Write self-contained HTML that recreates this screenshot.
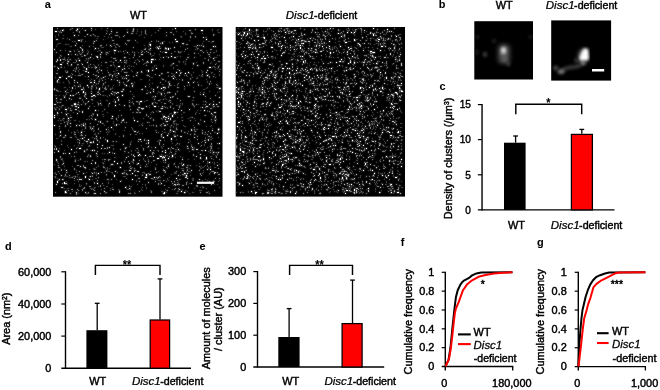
<!DOCTYPE html>
<html lang="en"><head><meta charset="utf-8"><title>Figure</title>
<style>
html,body{margin:0;padding:0;background:#fff;}
body{width:660px;height:390px;overflow:hidden;}
svg{display:block;}
svg text{font-family:"Liberation Sans",Arial,Helvetica,sans-serif;fill:#000;stroke:#000;stroke-width:0.42px;}
</style></head><body>
<svg width="660" height="390" viewBox="0 0 660 390" font-size="10.5">
<rect width="660" height="390" fill="#fff"/>
<g>
<rect x="53" y="27" width="169.5" height="169.7" fill="#000"/>
<defs>
<path id="s10" d="M110 110h0M101 150h0M131 146h0M39 123h0M130 137h0M64 136h0M26 33h0M12 164v1M160 19h0M81 93h0M107 129h1M115 131h0M154 48h0M64 70h0M1 88h0M131 165h0M118 111v1M166 61h0M54 113v1M13 51h0M7 37h1M87 74h1M123 45h0M115 91h0M73 58h0M4 154v1M152 123h0M42 21h0M115 21v1M120 104h0M165 102h0M67 33h0M73 48h0M150 67h0M56 125h0M122 12h0M44 30h0M26 121h1M111 89h0M15 91h0M11 155v1M112 25h1M157 142h0M1 98h0M112 125h0M61 23h1M46 61v1M62 78h0M164 106h0M25 80h0M59 89h0M58 100h0M79 152h0M1 90h0M133 148h0M29 111h0M37 115h0M101 79h1M103 41h0M35 112h0M98 34v1M65 39h1M95 43v1M148 3h1M5 41h0M92 150h1M79 146h0M93 147v1M1 88h0M30 64v1M45 146h0M87 112h0M5 124h0M135 45h0M151 83h0M111 165v1M156 40h1M69 68h0M114 108h0M72 160h0M128 164h0M111 130h0M121 85h1M42 92h0M44 117h0M21 8h0M40 68h1M119 88v1M17 68h0M61 134h0M24 2h0M166 116h0M32 149v1M33 41v1M16 126h0M122 1h0M67 140h0M9 3h0M65 46h0M85 136h0M156 135h0M135 55h0M97 17v1M12 82h1M95 113h0M104 131h0M110 60h0M6 50h1M105 21h0M98 32h1M153 130v1M25 13h1M28 105h0M108 61h0M120 51h0M61 148v1M105 131h0M160 77h0M15 27h0M21 77h1M123 151h0M2 4h1M30 98h0M18 122h0M153 12h0M36 152h0M85 128h0M92 128h0M132 46h0M118 29h0M86 127h0M123 14h1M34 58h0M35 45h0M44 156h0M42 83h0M13 87h0M119 128v1M41 55h0"/>
<path id="s11" d="M19 60v1M25 59h0M8 160h1M111 60h0M144 18h0M99 32h1M100 62h0M41 53h0M1 77h1M11 70h0M64 65h1M70 117h0M83 48h0M100 129h0M128 83h0M67 154h0M12 165h1M84 45h0M41 166h0M154 142h0M74 25h0M9 152h0M115 30h0M51 164h0M109 124h0M160 31h0M129 138h0M58 52h0M112 90h1M72 121h0M108 81h1M43 126h0M89 81h1M12 108h0M44 113h0M93 79h0M17 24h0M35 81h0M166 75h0M87 140h0M14 36h0M106 19h0M1 62h0M110 166h0M34 35h0M80 128h0M70 92v1M3 34h0M3 132v1M4 85v1M44 29h0M89 62h0M95 115v1M121 86h0M41 123h0M82 148h0M134 119h0M45 49h0M3 121v1M20 68h0M1 22h0M6 152h0M38 115h0M66 55h0M28 62h1M134 151h0M162 93h0M37 129h0M81 129h0M150 10h0M127 46h0M109 130h0M24 55h0M58 66h0M104 20h0M65 72v1M78 56h0M56 120h0M108 156h0M110 129v1M61 23h0M99 76h0M75 53h0M146 152h0M4 53v1M106 48h0M37 30h0M16 71h0M73 130h0M163 77h0M29 22v1M23 98h0M73 51h0M59 48h0M22 27h0M147 130v1M24 86h0M71 41h0M43 40h0M126 48h0M164 138h0M26 152h0M38 1h0M30 146h0M138 102v1M129 16h1M34 7h0M8 148h0M121 30h1M127 109h1M161 85h1M153 79h1M141 110h0M92 59h0M43 29h0M160 125h0M43 109h0M63 97v1M121 109h1M108 107h0M155 113h0M15 34h0M27 20h0M143 129h0M42 92h0M58 4h0M117 91v1M117 103h0M58 137h1M116 65h0M105 150h0M84 144h1M80 2h0M84 82h0M76 161h0M27 139h0M124 157h0M33 114h1M154 43h0M88 27h1M70 62h0M37 149h0M3 12h1M96 17h0M158 86h0M158 157h0M102 120h0M68 64h1M10 126h0M80 132v1M76 143h1M111 143h0M63 66h0M48 121h0M29 37h0M47 76h0M69 42h0M104 60h0M61 126h0M47 94v1M125 122h0M151 94h0M23 165h0M143 122h1M95 119h0M48 25h0M140 55h0M22 18h0M166 70h0M39 101h0M4 85h0M159 103h0M71 78h0M71 30h0M112 21h1M48 43h0M23 3h0M107 113h0M139 122h0M42 166h0M57 18h0M21 53h0M109 79h0M96 147h1M132 146h0M31 28h0M147 127h0M97 65h0M31 140h1M7 32v1M66 164v1M62 74v1M116 56v1M13 143h0M138 156h0M53 102h0M39 146h0M31 124h0M115 89h0M145 96h0M69 93h0M121 157h1M100 64h0M115 121h0M84 94h0M50 50h0M22 82h1M47 27h0M37 55h1M32 165h0M129 132h0M32 44h1M5 52h0M126 162h0M132 150h1M102 69h0M97 123h0M38 136h0M153 45h0M12 156h1M138 143h0M140 36h0M165 125h0M38 69h1M81 104h1M74 5h0M152 115h0M40 114v1M99 43h0M88 81h0M7 108h0M76 136h0M95 155h0M88 44h0M32 3h0M149 80h0M21 76h1M117 70h0M139 120h0M27 152h1M49 118h0M3 157h0M133 149h0M136 82h0M35 74h0M79 58v1M42 135v1M64 53h0M17 96h0M22 79h1M112 123h0M112 132v1M150 19h0M44 87v1M26 98h0M162 19h0M126 43h0M33 71h0M35 49h0M108 66v1M94 34h0M62 144h0M7 104v1M135 69h1M121 20h0M41 14h0M115 139h0M161 145v1M110 89v1M18 50h0M97 21h0M155 112h0M12 64h0M120 36h0M109 15v1M162 89v1M106 84h1M3 71h0M111 98h1M32 67h0M105 21h0M144 38h0M145 116h0M113 94h1M18 37h0M166 61h1M86 80h0M25 65h0M10 136h0M56 76h0M29 84v1M110 30h0M4 32v1M112 92h0M161 145h1M134 146h0M125 148h0M15 49h1M38 66h0M69 146h0M156 77h0"/>
<path id="s12" d="M9 137h0M25 48h1M86 34h0M32 141h0M164 145h0M84 121h0M70 24h0M2 150h0M97 91h0M39 149h0M125 56h0M133 17h1M34 129h0M11 95h0M125 139v1M116 129h0M88 62h0M164 58h0M98 164v1M75 125h0M47 67h0M156 154h0M126 79v1M62 33h1M122 158h0M4 40h0M54 1h0M83 74h0M117 102v1M26 113h0M69 93h0M17 166h0M124 60h1M133 140h1M157 54h0M166 132h0M88 25h0M106 149h0M53 6h0M124 85h0M36 159h1M125 82h0M110 96h0M88 45h0M111 76h0M155 32v1M136 3h1M132 22h0M70 9h0M24 1h0M3 147h0M31 123v1M54 120v1M118 49h1M52 49h0M108 108v1M23 166v1M60 35h0M157 25h0M74 13h1M112 80h0M45 101h0M159 87h0M110 166h0M1 39h0M38 27h0M125 161h0M82 13h0M30 139h0M68 135v1M72 16h0M154 155h0M37 128h0M75 48h0M47 166h0M82 143h0M59 162h1M48 145h0M125 157h1M135 115h0M135 160h0M154 107h0M62 8h1M113 22h0M140 36v1M14 34h1M17 110h1M30 96v1M45 94h0M70 108v1M145 57v1M80 2v1M116 58h1M113 140h0M103 98v1M110 142v1M134 142v1M160 79h1M89 32h0M129 52v1M105 14h0M21 107h1M38 3h0M131 105h0M109 15v1M59 49h0M32 100v1M119 128h0M76 78v1M10 152h0M31 110h0M32 66h0M109 131h0M19 150h0M118 26h0M32 28h0M81 141h0M18 78h1M38 59h1M96 129h1M63 5h1M106 117h0M110 153h0M8 117h0M81 143v1M110 133h0M86 85h1M101 72h0M92 139h0M127 73h0M38 88h0M95 89h0M69 51h0M48 51h0M144 112h0M66 163h0M3 46h1M33 156h0M37 8h0M77 64h0M23 16h0M14 44v1M107 55h0M71 145h0M12 126h0M24 162h0M7 23h0M107 16h0M3 25h0M112 135h0M60 31h0M28 21h0M76 75h0M21 58h0M5 140h1M91 22h0M119 121h1M25 31h0M24 138h1M120 81h0M32 96v1M79 56h0M13 145h0M152 77h0M71 35h1M32 65h0M25 24h1M53 143v1M129 143h1M22 79h1M142 9h0M27 132h0M35 60h0M102 141h0M137 138h0M140 122h0M1 125h0M85 80h0M112 128h0M93 38h0M52 112h0M10 2v1M6 82h0M67 122h0M122 161h0M115 60h0M165 141h0M47 104h0M103 150h0M24 77h1M51 161h0M150 160h0M112 60v1M21 129h0M77 139h0M28 108h1M118 154h0M24 37h1M110 117h0M76 73h0M34 122h0M141 107h0M148 118h0M44 65h1M157 71h0M5 153h0M157 125h0M116 73h1M77 107h0M80 30h0M94 48h1M26 115v1M17 90h1M86 133h0M21 105h0M34 26h0M28 77h0M121 136h0M69 42h0M71 134h0M161 33h0M166 102h0M144 158v1M150 35v1M22 44h0M146 143h0M77 117h0M52 35h1M29 25h0M1 61h0M74 147h0M123 101v1M120 48h0M41 111h0M124 153h0M143 158h1M63 114h0M95 25h0M147 165h0M31 68v1M130 137h0M17 99h0M112 76h0M95 134h0M37 101h0M46 66h0M134 138h0M44 129h0M26 33h0M155 27h1M106 116h0M58 91h1M25 75h0M52 55h0M155 104h0M7 129v1M120 94h1M2 119h0M28 13v1M158 92h0M102 142h0M36 19h0M158 116v1M28 107h0M61 31h1M7 75h0M8 132h0M95 146h0M49 53h0M98 14h0M85 151h1M5 123h0M8 40h0M51 140h0M118 120h0M73 45h0M113 8h0M44 43h0M157 106h0M92 21v1M118 125h0M16 24h0M102 75h0M92 3v1M107 98h0M134 121h1M54 94h0M149 47h0M53 25h1M119 69h1M30 60v1M75 166h0M133 32h0M12 98v1M21 141v1M84 125h1M146 18h0M9 156h0M93 149h0M7 72h1M86 164h0M45 45h0M73 17h0M103 105h0M26 144h0M17 83h1M102 47h0M37 96h0M105 3h0M152 74h0M27 48h0M54 152h1M57 38h1M64 8h0M38 72h1M165 101h0M89 148h0M125 24v1M100 133h1M36 79h0M58 152h0M53 27h0M30 138v1M35 31h0M56 68h0M166 151h0M41 163h0M43 60v1M156 84h0M165 34h1M102 154h0M45 76v1M160 154h1M73 33h0M165 102v1M28 97h0M77 141h1M140 70h0M147 146v1M77 82h0M150 36h0M40 47h0M138 6h1M80 1h0M165 39v1M100 92v1M93 116h0M128 45h0M26 84h0M37 37h0M40 162h0M115 55h0M141 64h0M162 37h0M41 155v1M4 1h0M6 30h0M165 125h0M134 30h1M89 24h0M148 123h1M44 124h0M85 83h0M60 13h0M71 45h1M36 118h0M56 47v1M115 59h0M141 26h0M87 128h0M124 71h0M43 111h0M133 48h0M3 63h1M15 93h0M74 54h0M32 76v1M156 135h0M42 48h1M35 165h0M143 77h0M106 115v1M154 25h0M90 121v1M84 74h0M89 82h0M51 61h1M134 106h0M50 139v1M142 2h0M85 112h1M160 74h0M126 152h0M24 112h0M163 125h0M93 87v1M165 147h1M140 127v1M45 56h0M162 151h0M86 75v1M10 32h1M8 5h0M42 40v1M42 39h0M57 62h0M77 166h0M49 156h0M50 56v1M133 155v1M139 90h0M111 102h0M23 40v1M1 121v1M5 138h0M156 50h0M16 148h0M19 47h0M104 151h0M119 70h0M70 55h0M17 2h0M58 10h0M117 79v1M89 98h0M149 103h0M39 133h0M159 14h1M157 123h0M114 45h1M17 32h0M55 45h0M129 93h0M108 91h0M92 5v1M113 5h0M93 147h0M25 8h0M44 67h0M163 57h0M40 16h0M81 27v1M63 91v1M117 5h1M27 59h0M59 67h0M141 100h0M72 100h0M60 114h0M44 97h0M41 142h0M163 129v1M158 131h0M122 66v1M157 22h1M150 134h0M91 112v1M124 108h0M56 132h0M12 147v1M4 75h0M156 29h0M152 80h0M25 163h0M71 8h0M164 79h1M75 13h1M8 85h0M124 116h0M152 69h0M129 147h1M68 95h0M114 97h0M160 49h0M155 109h1M47 18h1M100 98h0M153 165h1M100 85h0M93 137h0M130 137v1M8 142v1M11 69h0M71 33h0M112 20h0M115 106h0M68 88h0M141 79h0M108 97h0M121 49h0M148 148h0M121 162h0M149 105v1M107 21h0M102 32h0M157 119h1M27 27h0M92 134h0M71 51h0M118 98h0M160 125h0M86 29h0M93 101h0M122 139h0M150 25h0M31 113h0M112 144v1M79 71h0M26 71h1M31 40h0M70 146h0M109 52h1M50 136h0M42 83h0M162 68h0M46 54h0M72 30h0M5 144h0M10 91h0M108 46h1M71 57h0M40 99h0M18 38h0M28 108h1M56 47h1M88 114h0M42 69h0M129 158h1M78 6h1M81 25h0M99 77h0M51 121h1M22 149h0M21 55h0M10 110h1M137 51h0M16 12h0M93 66h1M32 108h0M6 99h0M26 4v1M86 77h0M44 153h0M111 158h0M158 120v1M99 125h1M96 49h0M75 134h0M41 145h0M2 165h0M20 43h0M22 133v1M107 24h0M25 112h0M96 22h0M121 154h0M18 72h0M73 146v1M75 129h0M18 162h1M31 160v1M160 7v1M71 124h0M46 42h0M105 156v1M38 91h0M9 78h0M38 102h0M99 126v1M37 100h0M161 163h0M134 21h0M73 95h0M151 113h1M121 84v1M51 82h0M147 23h1M58 19h0M32 67h0M7 28h0M94 95h0M105 73h1M63 17h1M127 45h0M157 81h1M146 139h0M84 105h0M156 166h0M144 109h0M86 154h0M98 151h1M123 144h0M55 132v1M140 78h0M44 67h1M21 151h0M45 64h0M47 158v1M38 61h0M15 91h0M79 4h1M95 35h0M144 21h0M110 63h0M153 132h0M78 127h0M51 132h1M29 162v1M23 121h0M19 1h0M40 7h0M119 156h0M152 88h0M156 56v1M100 69h0M80 49h0M80 76h0M131 59h0M117 75h0M127 25h0M81 35h0M142 104h0M65 24h0M14 96v1M152 105h0M137 9v1M110 72h0M59 64h0M24 152h0M45 106h0M93 24h0M159 144h1M50 50h0M23 34h0M61 65h1M59 13h0M30 161h0M132 165h0M23 33h0M45 150h0M147 67h0M21 125h0M115 137v1M70 62h0M33 114h0M85 114h0M80 20h0M4 55h0M114 65h1M137 93h0M47 29v1M120 7h0M103 145h0M93 35h1M83 85h1M164 116h0M138 119h0M156 49h0M28 105h0M17 81h0M97 26v1M133 156v1M122 126h0M166 44h0M47 110v1M23 66h0M124 64h0M154 25h0M45 21h0M139 76v1M53 165h0M19 68h0M45 102h0M40 87h0M141 102h0M13 45h0M72 120h1M37 101h0M29 47h0M44 120h0M66 19h0M52 62h1M121 104h0M52 60h0M38 64h0M111 66h0M49 96h0M53 147h0M56 7h0M117 21h0M128 103v1M148 18h0M14 32h0M32 77h0M15 163h0M43 13h0M84 136v1M66 77h0M114 163h0M2 82h0M141 30h0M137 107h0M164 127h0M28 104h0"/>
<path id="s13" d="M63 152h0M18 150h0M121 155h0M128 90h1M68 94v1M157 36h0M91 10h0M137 52h0M138 47v1M107 16h0M88 25h0M53 25h0M13 154h0M120 41h0M80 90v1M57 34h1M134 149h0M99 75h1M77 147h0M66 53v1M15 53v1M6 91h0M140 45h0M105 153h1M130 85h1M23 143h0M111 14h0M35 151v1M121 97h0M41 79h0M63 48h1M15 94h0M11 164h0M80 133h1M65 69h0M34 23h0M7 93h1M85 123h0M105 83h0M154 83v1M95 113h0M5 136h0M99 42h1M44 9h1M99 84h0M118 147h0M137 90h1M80 77h0M138 117v1M145 26h0M12 80h0M98 120h0M9 35h1M90 33h0M8 39h0M122 108h0M21 23v1M79 85h1M149 114h0M114 128h0M129 162h0M39 92h0M63 40v1M117 86h1M151 117h0M134 154h0M115 107h0M26 70h1M33 92h1M90 145h1M106 84h0M163 23v1M130 141h0M62 106v1M2 68h0M60 94h0M38 58h0M149 44v1M131 61v1M40 14v1M19 79h0M18 46h0M128 24h0M110 90h0M155 47v1M25 40h0M25 33h0M154 120h0M141 19h0M26 1h0M109 92h0M34 42h0M1 39h1M6 16h0M68 153h0M103 21h0M158 109h0M151 88h0M109 104h0M61 148h0M23 110h0M78 123v1M82 33h0M122 104h0M62 19h0M41 40h0M73 160h0M48 1h0M91 146h0M121 96h0M112 71h0M108 164h1M1 118h0M49 132h0M17 88h0M32 69v1M102 103h1M97 21h0M72 50h0M22 150h0M123 78h1M158 144h0M50 89h0M112 53v1M139 41h0M91 133h0M116 54h0M84 75h1M22 48h0M52 68h0M65 35h0M88 45h1M160 32h0M43 145v1M84 157h0M16 150h0M74 45h0M9 92h0M34 75h0M124 102h0M108 75h0M66 109h0M144 50v1M161 30v1M158 45v1M141 91h0M29 116h1M137 145h0M35 33h0M136 166h0M129 76v1M116 15h0M53 61h0M43 147h0M29 102h0M108 119v1M134 49h0M115 54h1M117 122h0M163 36h0M130 4h0M135 132h0M111 105h1M150 62h1M78 39h0M123 52h0M41 8h1M166 153h0M21 14h1M82 166h0M149 16h0M71 143h0M82 107h1M161 157h0M166 42h1M159 89h0M87 52h1M109 121h0M6 68h0M27 57v1M20 85h0M84 148h0M56 24h0M38 52h0M69 62v1M112 162h0M30 39v1M55 105h0M58 118h1M143 85h0M139 73h1M22 35h0M157 140h0M54 141v1M76 119h0M8 113h0M101 26h0M113 163h0M2 50h0M120 137h1M32 76h0M7 16h0M148 23h0M42 9h0M8 114h0M78 159h0M50 12h0M116 87h0M160 153h0M10 68h0M112 24h0M159 40h0M154 112h1M52 165v1M14 65h1M60 121v1M106 1h1M98 135h0M17 48h0M145 77h0M79 135h0M121 107v1M4 134v1M56 104h0M154 54v1M25 133h0M165 110h0M81 55h0M158 98h0M163 60h1M76 159h1M31 9h1M37 53h0M32 14h0M38 59v1M142 22h0M22 32h0M143 102h1M1 81h0M4 17h0M20 5h0M61 98h0M7 3h0M22 132v1M45 139h0M127 9h1M100 126h1M7 64h0M7 96h1M38 145h0M144 21h0M157 99h0M123 101v1M150 77h0M150 143h0M148 43h0M113 29h0M141 19h1M71 30h0M107 157h0M11 40h0M39 89h0M61 52h0M94 130h0M40 19h0M146 136h0M79 3h0M95 132v1M119 15h0M14 62h0M48 77v1M93 161h0M6 109h0M33 76h0M60 102h0M162 128h0M147 163h0M24 27v1M26 159h1M160 88h0M12 109h0M93 7h0M40 166h0M166 137h0M49 46h0M156 147h0M119 103h0M145 38h0M134 58h0M71 103h0M112 165h1M80 127h0M83 36h0M70 149h0M153 23h0M11 91h0M73 161h0M132 34h0M16 55v1M9 49h0M147 140h0M14 157h0M101 71v1M94 148h0M72 124h0M27 111h0M45 54h0M120 158h0M22 109h0M114 65v1M85 33h0M161 125h1M122 50h0M150 65h1M37 128h0M60 16h1M130 143v1M156 64h0M75 13v1M57 138h0M122 118h0M72 57v1M69 50h0M24 22h0M135 104h0M79 102h0M53 159h1M23 124v1M136 144h0M58 30h0M156 147h0M60 37h0M36 89h0M155 164h0M141 106h0M34 58h0M35 52h0M98 85h0M53 148h0M55 100h0M122 130h0M147 119h0M122 87h0M33 32h0M102 152h0M86 8h0M159 111h0M103 76h0M59 125v1M26 157v1M54 152h1M127 19h0M105 64h0M45 32h0M99 126h0M153 48h1M127 148h0M48 35h0M111 88h0M132 105h0M149 159v1M115 89h0M166 101h0M96 52v1M68 44h0M73 34h0M119 36h0M31 65h0M126 78v1M91 18h0M118 114h0M37 30h0M60 58h0M41 22h0M51 145h0M13 84h0M143 138h0M106 128v1M158 56h0M16 60h0M111 62h0M3 54h1M9 11h1M128 163h0M39 58h0M88 162h0M66 140h0M79 67h0M61 72h0M62 20h1M148 141h0M38 8h0M98 90h0M54 126h0M119 162h0M59 60h0M19 164h0M119 46h0M72 23h0M10 55h0M20 35h1M22 105h0M33 43h0M105 144h0M102 5h0M157 30h0M96 80h0M42 106v1M136 57v1M111 144v1M113 72h0M63 43h1M36 149h0M120 40h0M160 132h0M42 2h0M74 39h0M94 148h0M96 23h0M8 29h0M92 158h0M59 114h0M68 146h1M84 4h0M8 79v1M59 157h0M154 136h0M50 96h0M14 86h1M76 38h0M155 14h1M27 159h0M109 57h1M16 32h0M14 89h0M33 145h0M29 72v1M46 61h0M30 43h0M100 152h0M22 67h0M152 138h0M112 97h0M152 152h0M73 35v1M115 91h0M27 71h0M133 140h0M118 130h1M123 97v1M29 1h0M125 163v1M127 76h0M111 153h0M53 94h1M28 47h0M89 96h0M2 81h0M132 163h0M152 10h1M83 137h0M114 80v1M39 73h0M135 112h1M123 146h0M18 27h0M48 38h0M49 68h1M33 31h0M161 7h0M38 58h0M74 2h0M54 85h0M33 166h0M131 166h0M44 11h0M45 37v1M49 87h1M25 105h0M71 42h0M110 148h0M11 149h0M141 120v1M143 51h0M126 136h0M24 115h0M97 87h0M146 86h0M59 145v1M9 133h0M96 22h0M162 95h0M31 3h0M23 99h0M161 140h1M116 93h0M16 24h0M157 118h0M97 129h1M115 160h1M104 76h0M159 95h0M85 104h0M51 134h0M5 16h0M147 83h0M143 20h0M154 60h0M115 48v1M98 29h0M110 139h0M130 98h0M107 72h0M3 111h1M21 156h0M3 68h0M43 57h0M32 33h0M123 15h0M24 103h0M26 78h0M76 166h0M57 161h0M157 121v1M25 118h0M12 17h1M24 38h0M14 11h0M33 123h0M43 140h0M140 60h0M4 64h1M21 134h0M164 157h0M24 120h0M29 65h0M44 50h0M24 4h0M55 102h0M153 161h0M108 109h0M43 112h1M71 149h1M84 15h0M93 113h0M160 127h0M80 135h0M61 67v1M2 9h0M5 86h0M117 79h0M40 37h0M31 134h1M86 128h0M12 23h0M126 35h0M80 69h1M75 41h1M12 33h0M166 60h0M94 63h0M161 91v1M99 40h0M59 160h0M43 56h0M91 152h0M95 22h0M157 129h1M15 103h0M164 41h0M141 25v1M54 4h0M35 24v1M124 120h0M78 114h0M29 18h0M121 47h0M22 109h0M118 37v1M109 25h0M10 93h0M90 145h0M34 116h0M159 78h0M110 24h0M13 73h0M52 26h0M20 149h1M112 21v1M15 38h0M161 137h0M159 101h0M132 148h0M77 161h0M49 20h1M108 99h0M120 89h0M47 19h0M83 37h0M159 123h0M58 30h0M162 93h0M45 138v1M121 24h1M165 60h1M53 105h0M107 66h0M26 57h0M165 147h0M105 144h0M22 59h0M123 166h1M126 25h0M101 38v1M3 73v1M50 110h0M21 153h0M89 157h0M159 2h0M124 29h0M38 40h1M151 139h0M122 145v1M49 135h0M108 46v1M121 93h1M113 154h0M7 4v1M34 166h1M56 141h0M54 143h0M12 43v1M125 155v1M28 158h0M46 52v1M116 150h0M13 149h1M124 164h0M10 160h0M45 159h0M21 93h1M144 22h0M141 54h0M112 162h0M18 129h0M11 123h0M93 147h0M11 142h0M111 79h0M117 124h0M145 125h0M159 135h0M107 155h0M2 107h0M100 123h1M73 59h0M66 83h0M131 24h0M88 4v1M28 36h0M140 123h0M136 141h0M31 99h1M120 128v1M43 44h1M104 66h0M1 137h0M36 92h0M19 14h0M66 57v1M13 163h0M121 137h0M9 131v1M94 120h1M121 145v1M109 52h0M122 124h1M143 35h0M104 114h0M119 116h0M91 25h0M135 30h0M55 155h0M63 46h0M97 163h0M121 127h1M25 166h0M55 155v1M49 126h0M119 37h0M140 152v1M147 160h0M88 97h0M158 45h1M114 151v1M90 37h0M21 104h0M72 132h0M52 141h0M151 128h0M76 158h0M39 76h0M98 8h0M123 38h0M65 88h0M83 121h0M79 6h0M103 13v1M57 61h1M60 137h0M54 26h0M27 108h0M42 142h0M56 124h0M124 38h0M106 32h0M22 61h0M157 145h0M54 43h0M39 161h0M110 131h0M65 66h0M105 144h0M128 87h0M151 118h0M152 132h0M84 125h0M44 155v1M11 161h0M141 132h0M13 94h1M49 25h0M139 103h0M150 74h0M107 30h0M53 17h0M123 112h0M162 40h0M124 57v1M4 43h0M55 78h0M96 15h0M57 132h0M93 73h0M95 65h0M31 104h0M90 131v1M162 42h0M95 19h0M5 4h1M44 75h0M124 97h1M166 160h0M152 110v1M40 69h0M79 102h0M39 110h0M49 60h0M26 150h0M121 58h0M78 100h0M6 81h0M71 39h0M140 151v1M120 40v1M43 148h0M76 52h0M88 118h0M162 30h0M121 47h0M129 130h0M98 98h0M43 51h0M105 124h0M66 9v1M117 124v1M39 152h0M161 47h0M120 95h0M164 28h0M127 145h0M117 105h0M123 117h0M92 60h0M54 69h0M71 95h0M105 105h0M96 57h0M154 138v1M122 105h0M158 15h0M68 35h0M149 146h0M166 64h0M28 26v1M163 92h0M120 96h0M49 84h0M90 123h0M161 39v1M71 38h0M6 75h0M46 114v1M15 30h0M54 140h0M109 87h0M65 97h1M55 51h0M61 18h0M95 136h0M27 120h0M157 76h0M112 94h0M131 148h0M100 78h0M43 108h0M131 48h0M42 151h1M145 21h0M96 59h0M142 10h0M79 44h0M142 107h0M46 40h0M43 128h0M89 147h0M51 126h0M146 48h0M6 146h0M71 26h0M57 6h1M141 103v1M126 43h0M49 58h0M24 97h0M91 74h0M94 47v1M25 83h0M151 107h1M73 143h0M88 23h0M89 106h0M155 140v1M35 166h0M60 74h0M11 139h0M41 160h1M13 67h0M150 18h0M84 48h0M123 4h0M147 140v1M80 103h0M60 96h0M103 19h1M31 98h0M97 23h0M13 88h0M147 92v1M111 90h0M118 46h0M137 114h0M6 121h0M6 79h0M80 136h0M14 95h1M28 29h1M105 113h1M36 99h1M83 6h0M37 123h0M142 86v1M127 29h0M162 50h0M54 40h0M142 93h0M137 148h0M80 57h0M61 25v1M26 94h0M103 84h0M13 63h0M93 160h0M59 50h0M27 131h0M53 73h1M32 67h0M24 149h0M35 59h0M21 41h0M138 5h0M122 122h1M123 140h0M163 60h1M95 95h1M70 49h0M132 6v1M79 101h0M15 120h0M55 77h0M119 76v1M110 38v1M2 146h0M149 6h0M17 150h0M11 60h1M94 113h0M120 99v1M163 30h0M149 153v1M71 145v1M102 20h0M48 51h0M94 139h0M63 46h0M139 165h1M156 146h0M19 139h0M78 134h1M91 25h0M124 155h0M49 58h0M161 135v1M2 145h0M154 153h0M6 101h0M10 134h0M39 148h0M96 78h0M151 31h1M39 86h1M104 59h1M161 92v1M160 80h0M154 134v1M58 2h0M4 88h0M57 47h0M3 19h0M118 58h0M100 75h0M135 144h1M147 80h0M5 7v1M15 80v1M40 141h1M41 107h0M1 80h0M9 137h0M30 62h1M117 38h0M149 140h1M28 12h1M55 144h1M147 28h0M107 150h0M145 97h1M5 75h0M106 27h0M64 145h0M84 2h0M65 71v1M150 145h0M159 155v1M45 78h0M36 113h0M85 94h0M58 145h0M146 163h0M43 92h0M53 3h0M60 65h1M87 138h0M37 99h0M96 98h0M165 154h0M45 83h0M49 64h1M153 99h0M108 130h0M125 34h1M10 134h0M97 144h0M143 159h0M54 104h0M117 99v1M130 17h0M55 10h0M130 34v1M26 26h0M86 106h0M35 119h1M139 50h0M107 81h1M130 147v1M160 124v1M42 58h0M3 62h0M109 128h0M165 5h1M32 98v1M73 151h0M73 159h0M148 48v1M41 146h0M128 10h0M14 145h0M111 69h0M68 49h0M67 24h0M18 63v1M108 68h0M116 104h0M148 131h0M136 13h0M91 36h1M123 100h0M33 157h0M93 43h1M60 118h0M26 42h0M93 48h0M99 70h0M149 106h0M26 67h0M53 18h0M27 59h0M10 8h0M81 165v1M41 38h0M127 78h0M76 31h0M36 142h0M165 105h1M99 56h0M48 20h0M134 164h0M11 30v1M141 161h0M157 139h0M37 161h1M17 19h1M62 48v1M135 27h0M44 24h0M144 55h0M148 58h0M83 46h1M110 88v1M33 122h0M74 162h1M128 136v1M165 2h0M92 157h0M76 140h0M77 115v1M77 162h0M143 19v1M40 100v1M157 112h1M35 127v1M40 122h0M44 127h0M41 103h0M85 25h0M160 39h0M30 111h0M153 61h0M1 149h1M12 68v1M109 106h0M79 140h0M7 40h0M10 78h0M51 9h0M135 138h0M150 14h0M166 47v1M107 153h0M132 36v1M65 89v1M13 65v1M103 38h0M17 93h0M89 145h0M78 75h0M6 55h0M57 163h0M166 38h0M5 93h0M61 46v1M144 83h0M60 44h1M32 49h0M111 69h0M77 79h0M52 52h0M35 40h1M140 77h0M39 87h0M14 118h0M55 79h0M89 160h0M155 124h0M90 91h0M78 43h0M126 116v1M135 55h0M14 161h1M61 38v1M34 92h0M104 123h1M40 31h0M6 5h0M3 80h1M28 99h0M86 98h0M163 77h1M162 105h0M153 52h0M158 94h0M164 3h0M39 60h0M139 152v1M84 32h0M38 62h0M161 105h0M102 140h0M76 59h0M116 126h0M124 90h0M6 49v1M149 48v1M71 149h0M89 163h0M15 92v1M54 107h0M108 46h0M26 46h0M98 61h0M135 55h0M124 42h1M64 93h0M24 147h1M115 153h0M135 91h0M65 162h0M23 145h0M120 108h0M111 113h0M108 51h0M41 161h0M74 4h0M65 18h0M99 28h1M55 58v1M115 91h0M35 31h1M18 49v1M25 154h0M80 39h0M136 124h0M25 43v1M76 27h0M42 142h0M88 7h0M1 146h0M94 73h0M47 73h0M110 135h0M123 96v1M22 42h1M18 1h0M128 135h0M110 119h0M38 162h0M135 55h0M40 103v1M140 98h0M128 141h1M21 118h0M126 152h1M34 27h0M122 14h0M131 99h1M63 50h1M150 62h1M126 52h0M126 123h0M112 68h0M106 65h1M51 98h0M40 57h0M50 158h0M160 25h1M18 105h0M30 74v1M165 121h0M112 129h0M54 26h1M158 35h0M159 3h0M133 149v1M4 151h0M149 24h0M136 156h0M79 74v1M79 24v1M45 62h0M148 139h0M114 141h0M133 144h0M14 36h0M117 65h0M134 69h0M105 79h0M166 28h0M61 130h1M108 110h0M35 38v1M108 127v1M9 32h0M164 135h0M139 151h0M49 126h0M46 23h1M164 65h0M103 137h0M157 110h1M59 61h0M85 81v1M28 118h1M43 126h0M119 2h0M82 123h0M147 65h0M153 75h0M148 163h0M12 86h0M159 126h0M148 115h0M98 50h1M127 129h0M22 42v1M15 17h0M48 162h0M3 82h0M136 46h0M132 149h0M30 24h0M83 153v1M66 47h0M115 74h0M34 134h0M52 59h0M120 87h0"/>
</defs>
<g transform="translate(53.5 27.5)" fill="none" stroke-linecap="square">
<use href="#s10" stroke="#fff" stroke-width="2" stroke-opacity="0.3"/>
<use href="#s11" stroke="#b8b8b8" stroke-width="2" stroke-opacity="0.3"/>
<use href="#s12" stroke="#707070" stroke-width="2" stroke-opacity="0.3"/>
<use href="#s13" stroke="#3c3c3c" stroke-width="2" stroke-opacity="0.3"/>
<use href="#s13" stroke="#3c3c3c" stroke-width="1"/>
<use href="#s12" stroke="#707070" stroke-width="1"/>
<use href="#s11" stroke="#b8b8b8" stroke-width="1"/>
<use href="#s10" stroke="#fff" stroke-width="1"/>
</g>
<rect x="235.7" y="27" width="169.3" height="169.6" fill="#000"/>
<defs>
<path id="s20" d="M52 106h0M151 129h0M2 99h0M82 48h0M7 124h0M7 158h0M114 67h0M45 94h0M14 92h0M50 120h0M138 7v1M166 139h0M46 19h0M65 20v1M156 76h0M113 82h0M162 82h0M71 48h0M54 41h0M109 105h0M45 152h0M29 31h1M162 165h1M145 23h0M6 68h0M96 41h0M20 166h0M23 129h1M61 43h0M160 65h1M91 130h0M19 13h0M51 36h0M141 36h0M55 50h0M135 24h1M107 150v1M112 5h0M28 132h0M115 35h0M111 151h0M94 14h0M166 56h0M112 93h0M65 74h0M111 163h1M53 131v1M126 65h0M125 60v1M116 5h0M80 25h0M82 125h0M155 108h1M40 62h0M23 40v1M36 20h1M5 122v1M43 152h0M49 10h0M63 12h0M143 12h1M134 60h0M57 120h0M94 137h1M95 88h0M94 19h0M68 16h0M119 35h0M117 113h0M160 150h1M100 118h0M105 19h0M164 50h0M144 165h0M111 43h0M52 41h0M60 53h0M113 36h0M111 108h0M148 83h0M145 45h0M131 121h0M63 75v1M121 70h1M139 82h0M152 2h0M147 60v1M140 30h0M44 80h1M50 5h0M87 19h0M119 162v1M128 143h0M68 34v1M97 109h1M3 65h0M151 50v1M133 161h0M122 73h0M146 19h1M119 12v1M7 29h0M19 135h0M166 64h1M22 30h0M101 35h0M9 5v1M79 78h0M10 28h0M89 100h0M54 45v1M128 109h0M80 77h0M130 136v1M138 77h0M64 136h0M67 58h0M105 34h0M58 9h0M151 150h0M80 89h0M106 9h0M164 60h0M3 95h1M126 78h0M103 6h0M2 71h0M157 130h0M52 83h0M76 103h0M128 118h0M61 143h0M163 104v1M124 118h0M85 150v1M156 165h0M69 50h0M7 64h0M154 105h0M65 18h0M106 32h0M75 42h0M27 62h0M46 28h0M76 93h0M166 132h0M93 101h0M117 125h0M20 165h1M139 146h0M67 29h0M113 20h0M75 155h0M47 137v1M137 143h0M34 130h0M54 109h0M95 25v1M119 5h0M131 112h0M138 1h0M117 29h0M120 103h0M128 143h0M122 106h0M56 126h0M161 9h0M29 10v1M116 157h0M70 96h0M145 64h0M8 82h0M23 27h0M3 7h0M60 166h0M101 85h0M16 27h0M124 17h0M48 114h0M45 119h0M110 166h0M164 61h0M147 105h0M138 25h1M14 2v1M1 60h0M3 74v1M52 84h0M3 65h0M47 41h1M153 148h0M137 152h0M10 109h0M50 68h0M156 157h0M147 148h0M105 131v1M20 105h0M8 124v1M78 142h1M12 6v1M57 68h0M110 15h1M16 164h0M46 72h0M52 96h0"/>
<path id="s21" d="M147 35h0M76 41h0M90 113h1M91 20h0M6 27h0M51 128h0M123 16h0M84 109h0M104 137h0M18 78h0M157 80h0M114 31h0M32 165v1M145 89h0M68 157h0M149 56h0M45 102h0M90 4h0M69 7h0M116 96h0M133 130h0M156 50h0M158 119h0M132 110h0M129 3h0M132 116h0M27 60h0M12 149v1M43 17h0M47 18h0M128 23h0M12 147h0M65 29h0M164 33h0M104 128h0M145 9h0M7 135h0M139 56h0M18 64h0M13 83h0M66 138h0M112 27h0M81 18v1M14 123h0M89 145h0M97 69h0M70 42h0M114 79h0M80 5h0M39 55h0M104 69v1M17 113h0M156 116v1M129 16h0M133 41h0M88 114h0M6 144h1M27 76h1M128 35h1M27 65h0M24 17h0M34 124h0M153 11h0M41 137h0M95 35h0M27 92h0M165 27h0M164 69h0M121 56h0M28 29h0M2 107h0M154 145h0M40 127v1M50 112h0M48 159h0M95 119h0M166 36v1M133 163v1M14 20h1M154 133v1M131 154v1M85 116h0M54 54v1M39 105h0M108 134h0M105 135h0M57 37h0M22 149h0M79 148h0M121 165h0M122 117h0M80 99h0M3 62h0M107 147h0M132 70v1M55 142h0M88 101v1M25 45h0M120 126h0M119 151h0M155 26v1M84 141v1M80 152h0M15 85h0M73 21h0M35 44h1M50 13h0M109 144h0M90 9h0M122 136h0M5 76v1M137 114h1M115 34h0M69 119h0M77 161v1M125 114h0M80 22h0M124 76h0M1 110v1M125 18h0M6 8h0M21 24h0M22 9h1M33 165h0M66 13h1M76 21h0M125 79h1M11 151h1M66 104h0M137 28v1M155 123h0M37 125v1M41 149h0M104 60h0M159 95h0M89 69h1M124 157h0M138 148h0M91 52h1M87 62h0M52 118h0M51 127h0M161 66h1M146 64h0M163 110h0M54 53h0M35 76h0M48 137h0M36 45h0M52 152h0M109 60h0M57 79h1M155 21h0M159 20v1M24 20h0M1 86h0M32 28h0M60 15h0M14 48h0M162 67h0M112 59h1M90 72h0M81 137h0M160 32h0M74 75h0M137 58v1M60 130h1M48 61h1M43 16v1M97 122h0M101 91h0M73 14h1M41 66h0M77 56h1M49 108h0M105 140h0M41 104v1M156 77h1M37 59h0M24 120h1M59 46h0M114 80h0M6 66h1M94 111h1M113 147v1M75 63h0M73 45h0M124 110h1M86 50h0M65 106h0M72 43h0M130 32h0M120 49h0M104 38h0M46 134h0M34 78h0M8 24h0M47 26h0M114 64h0M8 7v1M140 40h1M25 117h1M52 50h0M32 75h0M84 146v1M55 164v1M105 65h0M103 163h0M125 84h0M135 5v1M77 161h0M61 72h0M45 63h0M9 144v1M133 81h0M149 30h1M136 123h0M55 20h0M84 18h0M76 84h0M81 71v1M80 79h0M130 113h0M88 139h0M36 162h0M137 128h0M8 53h0M54 71h0M82 86h0M105 92h0M47 122h1M84 70h0M70 33h0M158 79h1M118 41h0M96 112v1M72 81h0M158 81h0M119 165v1M62 41h0M164 29h0M114 91h0M15 64h0M156 67h1M34 48h0M117 121h0M56 78h0M32 72h0M98 25h0M39 50h1M24 93h0M1 129h0M45 131h0M89 102h0M50 133h1M26 31h1M25 68h0M75 11h0M157 94h1M93 160h0M150 45v1M70 14h0M112 156h0M155 80h0M10 140h0M107 65v1M11 48h0M20 147h0M63 144v1M28 136h0M4 156v1M132 73h1M114 22h0M108 146h0M134 98h0M135 137h0M55 76h0M57 57h0M140 114h0M123 93h0M154 4h0M46 79h0M74 49v1M94 65v1M165 73h0M44 109h1M161 97h0M11 16h0M75 29h0M80 88h1M91 62h0M115 33h0M127 10h0M44 96h0M36 88h1M126 123h0M111 147h0M75 137h0M98 118h0M91 157h0M22 46h0M90 108h0M85 24h1M101 109h0M152 104h1M115 21h1M31 110h0M127 52h0M132 40h0M153 67h0M68 122h0M111 55v1M136 42h0M123 108h1M55 18h0M128 105h0M137 25h0M77 51h0M25 133h0M2 55h0M47 148h0M117 102h1M59 3h1M126 103h1M50 55v1M27 16h1M162 105h0M138 62v1M29 53h0M62 113h0M66 93h0M107 115h0M10 110h1M4 6h0M91 134h0M163 119h0M112 148h0M128 102h0M104 146h1M162 58h1M15 18h0M142 98h0M82 105h0M3 38h0M85 110h0M12 75h0M140 61v1M68 103h0M110 147h0M151 100h0M88 36h0M136 33h0M17 21h0M53 141h0M23 133h0M81 42v1M58 86h0M22 38h0M69 53h0M83 50h0M101 110h0M115 42h0M102 69h0M75 65h0M54 147h0M65 124h0M6 11h0M100 106h0M20 139h0M63 79h0M165 166h0M104 69h0M155 157v1M72 160h0M51 93v1M147 157h0M49 117h0M115 124h0M109 8h0M60 56h0M113 141h0M28 10h0M126 81h0M114 159h0M112 24v1M60 114v1M80 62h0M158 17h0M39 61h0M142 43h0M20 20v1M21 2v1M100 102h0M9 43h0M111 132h0M3 77h0M143 121h0M56 5h0M130 99h0M34 37h1M157 146h0M159 164h0M134 156h0M80 71v1M119 35v1M158 101h0M104 34h0M29 87h1M64 121h0M16 103h0M99 109h0M13 148h0M87 43h0M50 55h0M91 133v1M68 146h0M128 52v1M115 76h0M109 157h0M40 48h0M94 21h0M166 38h0M17 116h0M128 61h0M47 44h0M121 89h0M15 115h0M121 163v1M38 143h0M5 121h0M103 134h0M46 21h0M166 63h0M52 95h0M114 163h0M143 14h0M122 77h0M6 69v1M150 19h0M83 148h0M1 65h0M13 20h0M144 61h0M41 72h0M1 47h0M121 93h0M57 84h1M57 43h0M121 161h1M47 144h0M60 79h0M13 89h0M28 131h0M114 108h0M64 112h0M79 153h0M48 107h0M145 160h0M40 56h0M65 112v1M27 66h0M49 129h1M37 143h0M72 98h0M141 74h0M103 60h0M40 164h0M119 47h0M50 20h0M141 140h0M102 52h0M16 17h0M3 79h1M31 77h0M139 106h0M18 122v1M64 138h0M54 109h1M153 100h0M33 166h0M157 68h1M102 127v1M14 156h0M108 62h0M64 114h0M57 132h0M19 74v1M30 50h1M111 150h0M23 13h0M10 114h1M144 118h0M93 116h0M59 22h0M93 112h0M66 16h1M11 8h0M64 102h0M42 55h0M93 98h1M95 1h0M156 4h0M3 147h0M48 25h1M121 147h0"/>
<path id="s22" d="M41 122v1M31 147h0M164 108h1M7 88h0M79 15h1M80 84v1M127 91h0M164 63h1M156 159h1M104 87h0M24 62h0M38 156v1M1 118v1M14 16h0M106 130h1M97 22h0M41 143h0M6 103h0M51 118h0M121 128v1M61 78h0M142 11h0M77 42h0M18 131h0M64 9h0M29 70h0M52 64h0M87 48h0M119 30h1M119 80h0M81 115h0M166 58h0M117 89h1M27 166h1M40 145h0M54 53h0M122 131h0M136 118h0M90 64h0M145 101h0M96 153h0M123 31h0M101 147v1M99 140h0M5 54h1M39 91v1M70 34v1M1 14h0M30 65h0M110 12h0M55 160h0M40 15v1M155 129h0M110 109h0M56 4h1M123 162h0M91 162h1M57 102h0M15 131v1M74 65h0M82 43h0M89 125h0M61 63h0M159 136h0M43 71h0M66 83h0M123 155h0M13 34h0M47 129v1M123 98h0M121 114h0M61 165h0M18 27h0M24 151h0M71 61h0M122 113h0M24 61h0M56 151h0M13 93h0M124 77h0M131 132h0M109 44h0M29 25h0M72 165h0M55 132h1M144 153h0M87 16h0M60 109h1M123 97h0M83 63h0M152 70h0M99 44h0M113 149h0M17 38h0M90 150h0M113 94h0M63 95h1M18 130h0M37 161h0M17 109h0M95 22h0M18 132h1M71 44h0M19 29h0M166 49h1M68 159h0M132 74h0M142 36h0M40 44h1M119 162h0M57 36h0M160 110h0M108 55h0M71 52h1M33 30h0M115 145h0M19 120h0M107 162h1M97 11h0M43 4h1M162 102h0M164 58h1M16 30h0M141 63h0M98 1h0M107 90h0M124 87h0M104 63h0M62 68h0M97 73h1M94 29h0M145 6h0M112 124h1M164 10h0M33 163h0M121 72h0M77 31h0M43 106h0M50 54h0M136 106h0M139 74h0M1 34h0M143 42h1M68 24h0M91 147h1M135 47h0M131 149h0M155 163h1M16 11h0M28 19h0M18 81h1M31 92h0M63 158h0M25 50h0M80 12h0M41 104h0M114 140h0M102 87h0M27 54h0M60 99v1M85 56h0M85 87h0M95 119h0M147 5h0M9 20h0M119 74v1M142 34h0M99 78h0M8 151h0M20 89h0M127 87h0M14 10h0M152 12h1M145 39h0M128 84h0M72 109h0M148 141h1M81 25h1M108 121h1M118 165h0M158 68h0M124 80v1M161 40v1M28 79h0M129 28h1M154 152h0M139 6h0M22 36h0M7 94h0M77 64h0M158 54h0M83 91h0M6 134v1M18 121h0M111 68h0M75 64h0M83 126v1M77 29h0M112 102v1M84 166h1M38 47v1M129 135h0M22 3h0M77 2v1M51 164h1M95 8h0M146 39h0M142 53h1M50 86h0M55 74h0M99 96h0M145 116v1M106 5h0M133 20h0M109 121h1M57 79h0M133 34h1M107 142h1M162 162h0M105 108h0M85 121h0M46 77h0M41 49h0M106 65h0M40 166h0M13 18h0M29 55h0M114 118h1M162 110h1M137 48h0M129 33v1M88 57h0M12 57v1M27 156v1M66 14h0M66 14h0M107 131h0M66 8h1M145 84h0M53 4h1M157 87h0M46 125h0M125 61h0M13 92h0M90 97h0M25 17h0M25 151v1M156 51h1M72 92h1M131 135h1M91 112v1M68 47h1M124 17h0M101 154h0M141 8h0M77 128h0M116 105h0M163 49v1M37 88h0M18 86h1M139 123h0M32 125h0M106 154h0M157 129h0M131 9h0M122 119h1M159 17h0M52 3h0M87 47h0M150 140h0M14 64v1M124 141h0M140 105h0M151 34h0M60 59h0M139 32h0M53 6h1M58 54h0M66 41h0M71 40h0M100 146h0M97 124h0M81 22v1M69 139h0M126 60h1M85 43h0M112 147h0M91 51v1M117 114h0M159 163h0M115 69h0M70 161h0M113 30h0M28 35h1M148 62h0M156 84h1M24 104h0M137 6h1M125 79v1M17 25h0M1 43h0M150 123h0M7 96h0M68 115h0M43 165h1M121 83h0M118 139h0M43 41v1M142 2h0M66 159h0M78 31h0M6 64h0M70 115h0M46 1h0M162 34h0M159 21h0M61 22h0M3 66h0M115 66h0M39 66h0M114 157h0M26 77h1M150 148h0M84 16h0M66 117h0M158 134h0M55 111h0M153 21h0M6 53h0M67 18h0M75 83v1M30 140v1M15 116h1M85 51h0M126 164h0M11 143h0M102 133h0M89 15v1M41 84h0M106 84h1M39 81h0M100 158h0M87 97h0M69 132h0M165 104h0M65 43h0M126 55h0M61 164h0M43 144h0M134 72h0M113 59h0M135 142v1M36 166h0M165 63h0M6 141h0M108 52h0M51 134h0M59 120h0M2 82h0M157 161h0M115 56h1M163 8h0M65 137v1M137 97h0M50 124h0M75 23h1M62 105v1M46 139v1M127 51h0M166 109h1M26 48h0M166 122h0M23 27h1M109 43h0M125 13h0M39 116h0M37 109h0M9 87h0M132 47h0M85 48h0M120 109h0M26 90h0M57 39v1M70 118h0M76 152h0M114 41h0M99 99h0M122 28h0M90 12h0M44 123h0M118 152h0M127 44h1M165 48h0M159 49h1M51 1h1M14 76h0M142 67v1M8 127v1M2 129h1M152 4h0M37 11h0M29 63h0M20 36h0M35 46h0M160 46h0M39 67h0M45 62h0M140 8h0M75 153h0M52 141h0M22 102h0M33 41h0M91 46h0M55 78v1M59 143v1M44 10h0M61 164h0M149 16h0M126 2v1M98 155h0M119 155h0M119 103h0M51 139h0M91 87h0M154 71h0M46 50h0M120 57h0M19 94h0M74 159v1M94 112h0M43 77v1M90 152h0M125 19h0M158 70h0M104 152h0M27 56h1M121 21h0M121 122h1M100 74h0M148 133h0M108 73v1M11 89h1M109 164h0M31 79h0M47 77h0M8 85h0M67 37h0M50 136h0M57 161h0M48 25h0M107 34h1M134 149h0M77 86h0M105 122h1M133 67h0M100 52h0M133 82h0M18 46v1M65 1h0M46 49h0M104 151h0M158 109h0M100 135h1M90 57h1M9 125h0M8 71h0M32 61h0M131 13h0M27 64h0M128 38h0M152 159h1M21 156h1M141 74h0M146 92h0M57 134h0M65 118v1M89 113h0M113 1h0M37 57v1M81 38h0M44 14h1M10 103h0M79 70h0M39 8h0M158 36h0M84 42h0M140 74h0M152 40h0M39 7v1M15 33h0M132 70h0M126 79h0M26 65h0M139 138h0M2 90h0M5 119h0M127 124h0M59 119v1M51 73v1M1 64h1M125 54h0M79 49h0M71 14h0M2 40v1M87 72h1M15 98h0M144 112h0M97 134h0M19 104v1M106 121h0M77 13h0M15 149h0M160 76h1M39 143h0M140 122h0M42 87v1M79 80h0M103 154h0M141 5h0M8 124h1M123 116h1M49 113h1M110 149h0M45 16h0M1 63h0M40 51h0M5 165h0M19 29h0M41 8h0M102 97h0M157 140h0M67 23h0M70 134h0M63 96h0M43 3h0M39 143h0M120 121h0M22 126h0M145 47h0M147 130h0M119 26h0M144 142h0M135 70v1M148 118h0M163 160h0M49 127h0M142 159h1M135 100v1M67 22v1M17 150h0M8 45h0M160 30h0M45 84v1M133 94h0M19 129h0M125 41h0M157 144v1M114 132h0M60 112h0M144 116v1M128 63h0M125 141h0M12 132h0M119 49h0M29 102h0M163 161v1M100 51h0M102 53h0M14 53h0M112 96h0M117 81h0M139 53h1M106 119h0M128 130h0M86 16h0M31 99h0M82 97h0M84 125h1M133 30h0M109 143h0M71 70v1M148 124h0M47 37h0M28 51h0M73 26h0M135 25h0M24 40v1M162 113h0M81 122v1M107 125h0M122 16h0M102 95h0M53 129h0M33 141h0M127 157h1M164 158h0M82 74h0M97 132h0M46 166h0M157 102h0M138 29h0M108 25h0M148 11h0M102 135h0M158 69h0M80 110h0M34 153h0M153 164h0M62 103h0M41 62h0M86 98h0M95 85h0M97 132h0M89 114h0M65 156h1M89 53h0M94 128h0M18 151h0M159 1h0M66 6v1M2 147h0M139 53h0M4 70h0M37 166h0M158 110h0M159 129h0M1 120h0M9 137h0M85 153h0M49 76h0M66 109h0M36 87h0M125 161h0M136 49h0M62 33h1M65 111v1M100 85h1M123 78h0M129 121v1M34 51h0M124 128h0M131 37h0M96 92h0M125 1h1M29 24h0M25 113h0M155 163h0M148 93h0M85 12h0M4 129v1M104 100h1M120 2h1M87 12h0M152 88h0M1 148h0M141 94h0M141 13h0M13 15h0M72 80h0M131 28h0M142 80h0M67 41v1M44 108v1M69 69v1M151 80h0M165 61h0M14 22h0M25 84h0M126 75h0M86 70v1M122 35h0M86 122h1M112 158h0M68 97h0M82 61v1M135 11h0M149 124h0M127 154h0M80 128h0M67 159h0M9 31h0M116 23h0M94 41h0M104 25h0M155 91h0M149 3h0M8 85h0M69 89v1M158 136h0M164 32h0M50 58h0M31 76h1M9 121h0M105 125h0M158 89h0M94 131h0M29 45h0M6 59h1M6 52h0M116 110h0M78 149h0M154 62h0M64 18h0M157 105h0M115 164h1M8 5h0M17 25h0M106 152h0M133 110h0M93 73h0M31 50h1M9 55v1M16 17h1M103 97h0M61 114v1M12 29h0M56 74h0M58 6h0M12 119h0M31 13h0M114 142h0M64 63h0M111 40h0M99 99h0M135 26h1M165 10h0M107 144h1M6 40h0M38 4h0M69 2h0M148 12v1M40 11h0M138 36h0M76 5h0M27 105h0M8 64h0M56 141h0M49 133h0M65 81h0M6 64h1M20 132h1M126 128h0M64 133h0M76 157h0M41 108h0M40 70h0M9 82h0M88 7v1M154 137h0M86 14h0M151 86h0M70 162h0M127 101h0M159 76h0M39 165h0M127 161h0M4 70h0M101 102h0M56 111h0M22 121h0M68 43h0M40 162h0M54 126h1M136 152h0M3 61h0M110 56v1M55 51h0M135 28h0M39 69h0M135 58h0M86 122h0M78 146h0M145 134h0M38 39h0M95 73h0M149 102h0M24 60h0M12 45h0M112 82h0M110 48h0M30 14v1M92 51h0M88 62h0M14 6h0M87 41h0M112 105h0M102 103h0M95 95h0M92 67h0M145 165h0M93 97h0M138 30h0M145 16v1M18 20h0M15 36h0M49 59h0M38 129h0M40 161h0M23 44h0M118 59h0M164 81h0M98 148h0M151 38h0M38 124h0M39 89h0M12 134h0M75 141h0M41 151h0M21 85h0M151 35h0M89 8h0M92 24h0M78 11h0M162 137h1M110 161h0M133 124v1M112 72v1M82 9h1M52 90h0M66 24h0M20 113h1M151 36h0M128 37h0M5 139v1M14 119h0M10 1h0M142 21h0M22 132h0M96 133v1M118 94h0M33 117h0M139 153h0M19 111h0M131 56h0M69 127h0M62 138h0M17 40h1M93 36h0M58 96h0M2 155h1M40 47h1M6 107v1M52 146h0M161 38h0M98 137h0M9 64h0M115 40v1M73 156h0M89 157h0M93 120h0M90 137h0M149 139h0M83 79h1M163 152v1M116 56h0M109 90h1M122 128h0M80 110h0M4 67h1M40 144h0M32 120h0M7 141h0M162 122h1M101 23h0M84 57v1M155 110h0M116 77h0M59 79h0M115 26h0M84 90h0M154 93h0M93 144h0M37 86v1M54 103v1M164 17h0M36 43h0M46 64h0M90 11h0M71 52h0M9 149v1M109 13v1M32 47h0M105 145h0M84 7h0M57 116h0M15 106h0M132 35h0M39 68h0M36 75h0M120 13h0M119 27h0M75 52v1M122 115h0M129 89h0M50 15h0M36 29h0M43 19h1M144 110h1M164 147h0M132 140h0M35 13h0M50 94h0M31 151h0M59 50h0M69 118h0M56 69h0M90 50h1M3 133h0M52 36h0M76 145h0M29 33v1M128 51h0M91 48h0M89 42h0M58 115h0M165 46h0M79 81h1M6 99h0M109 148h0M72 134h0M160 129h0M12 14v1M160 8h0M156 8v1M33 64h0M150 149h0M10 30h0M89 137h0M6 110v1M70 25h1M158 116h1M40 108v1M165 11v1M88 91h0M142 44h0M165 69v1M111 90h1M61 46h0M46 48h0M23 42h0M65 56v1M68 13h0M95 98h0M142 40h0M36 131h0M161 12h0M137 65v1M116 146h0M74 28h0M166 68h0M140 93h0M135 76v1M106 156h0M113 11h0M43 95h0M28 19h0M108 98h0M33 70h0M18 126h0M124 70h0M19 107h0M152 113h0M45 131h0M86 95v1M21 46h0M56 32h0M92 2h0M79 41h0M47 109h0M139 138h0M105 6h0M7 79h0M64 45h1M115 100h0M32 51h0M38 139h0M57 32h0M140 91h0M63 56h0M142 150h0M68 109h1M111 152h0M128 123h1M88 21h0M92 56v1M46 4h0M22 137h0M107 109h1M112 85h0M71 112h0M78 58h1M131 139h0M131 62h0M137 132h0M121 80v1M62 158h0M18 157h0M90 72h0M164 72v1M2 142h0M106 154h0M40 165v1M78 24h0M34 61h0M4 126h1M119 50h0M71 113h1M5 116h0M160 12v1M94 82h0M111 94h0M78 97h0M146 10v1M129 138h0M69 13v1M61 13h0M131 111h0M42 144h0M166 63h0M120 3v1M129 45v1M118 24h0M119 91h0M89 105h0M131 166h0M94 97h0M124 68h1M60 112h0M50 39h0M133 16h0M32 97h0M130 69h0M109 7h0M50 51h0M124 122v1M60 18h1M142 53h0M118 70h1M49 2v1M45 23h0M28 57h0M128 157v1M127 89h0M49 83h0M46 37h0M86 28h0M146 107h0M142 97h0M79 124h0M27 91h0M12 16h0M14 80h0M50 23h0M95 69h0M14 64h1M162 57h0M114 74h0M28 16h1M72 123h0M21 121h0M37 162h0M97 116h0M40 6h0M134 129h1M57 86h0M7 105h0M110 144h1M7 44h0M89 42h1M165 134v1M117 64h0M61 55h0M147 124h0M102 96h0M118 6h0M36 14h0M37 24h0M80 95h0M129 85h0M37 66h0M130 69h0M87 50h0M65 107h0M66 32h0M5 94h0M86 97h0M93 142v1M59 102h1M83 163h0M59 160h0M148 102h0M21 76h0M62 57h0M92 67v1M155 119v1M131 72v1M20 89h0M58 130h0M124 106h0M61 114h0M121 81h0M73 128v1M165 126h0M27 66h0M75 75h0M160 133h0M86 154h0M129 90h0M152 130h0M108 4h0M62 45h0M37 29h0M63 16h0M69 26v1M50 119h0M125 54h0M154 86h0M65 152h0M109 9h0M14 90h0M49 147h0M81 1h0M156 86h0M32 105h0M47 150v1M57 146h0M25 33h0M20 132h0M11 126h0M96 77h0M29 135v1M150 13h0M61 150h0M88 23h0M67 93h0M83 82h0M159 56h0M21 83h1M121 112h0M7 45h0M32 48h0M106 144h0M101 133h0M8 137h0M132 88h0M135 77h0M19 94h0M166 113h0M34 1h0M39 10h0M62 32h0M11 77h0M54 71v1M55 23h0M67 32h0M58 47h0M109 144h0M117 152h0M136 94h0M81 139h1M48 130h0M76 93h0M12 150h0M108 152v1M22 159h0M78 135h0M122 103h0M147 103h0M38 115h0M2 133h0M119 162h0M44 134h0M78 54v1M164 21v1M124 110h0M68 166h0M54 85h0M59 95h1M103 2v1M166 16h0M74 157h1M127 55v1M83 80h0M2 140h0M13 148h0M109 60h0M29 64v1M148 84h0M91 133h0M17 110h0M157 23h0M104 132h0M125 142h0M81 18h0M70 74h1M87 132h0M161 157h0M47 144h0M156 16h0M50 155h0M134 96v1M90 52h0M150 103h0"/>
<path id="s23" d="M32 25h0M64 25h0M145 63h0M57 56h0M120 101h1M83 21h0M98 30h0M99 164h0M48 3h0M154 75h0M99 121h0M107 164h0M130 70v1M6 67h1M36 155v1M113 61h1M39 22h0M133 70h0M133 48h0M147 13h0M36 59h0M134 35h0M36 56h0M35 60h0M144 109h0M76 51v1M162 140h0M164 46h0M12 36h1M127 76h0M59 20h0M86 13h0M59 48h0M87 34h0M149 7h1M62 157h0M71 26h0M54 119h0M5 49h0M49 116h0M1 14h0M8 26h0M28 90h0M121 166h0M83 35h0M103 87h0M118 37v1M90 101h0M37 106h0M91 29h0M124 79h0M121 96h0M54 53h1M100 118h0M81 78h1M28 123h1M95 156h0M29 28h0M27 105h0M18 81h0M74 158h0M47 93h0M36 97h0M55 126h0M143 53h0M60 111v1M50 66h1M124 86h0M49 60h0M52 162h0M30 158h0M127 156v1M140 102h0M159 66h0M149 36h0M163 70h0M9 118h0M20 30v1M100 75h0M75 52h0M94 165h0M135 141h0M30 4h1M78 141v1M93 51h0M130 83h1M107 96h0M103 101v1M102 30h1M109 31h0M18 19h0M5 7h0M36 112h0M68 23h1M4 117h0M148 98v1M98 145v1M103 131h0M66 75h0M131 28h0M99 115h0M144 110h0M91 78h0M165 62h0M1 165h0M101 110h0M72 94h0M145 61h0M134 152h0M96 49h1M74 21h0M71 154h0M97 160h0M133 52h0M21 68h1M51 1h0M69 121h0M107 6h0M162 32v1M124 165h1M141 16h0M4 60h0M109 63h0M93 110h0M139 126h0M88 119v1M8 61h0M135 119h0M48 134v1M2 109v1M157 86h0M133 27h0M10 86h1M14 151h0M49 57h0M37 49h0M64 78h0M53 22h0M113 101h0M135 97h0M113 62h0M56 109h0M55 87h0M20 3h0M110 61h0M107 47h0M108 152h0M117 2h0M91 113h0M96 78h0M20 71h0M158 83h0M121 133h1M145 88h0M97 90h0M21 61h0M79 51h0M124 123h0M60 120v1M116 31h0M20 58h0M111 60h0M20 14h0M151 87h1M91 128h1M101 164h0M12 29h0M143 29h1M8 13h0M61 45v1M118 146h0M82 13h0M107 67h0M148 10h0M148 137h0M119 135h0M57 57h0M166 121h0M82 12v1M60 11h0M113 114h0M5 116h0M105 78h0M104 63h1M77 123h0M138 30h1M90 148h0M53 5h0M136 47v1M80 24h1M164 13h0M127 35h0M78 108h1M58 63h0M52 62h0M125 87h0M72 134h0M99 148h0M137 40v1M140 39h1M68 134h0M7 140h0M5 65v1M85 57h0M64 144h1M160 95v1M137 95h0M22 7h1M50 117h0M32 91h0M125 126v1M61 65h0M101 56h0M62 13v1M145 31h0M137 20h0M56 143h0M3 49v1M158 97h0M102 75h1M79 136h0M101 149h0M51 94v1M72 40h0M3 158h0M46 96h1M70 49v1M80 142h0M99 96h0M121 91h0M19 163h0M126 7h0M78 82h0M57 74v1M97 40v1M96 4h0M72 45v1M109 22h0M106 107h0M132 7h1M48 160h0M11 45h0M145 60h0M45 111h0M72 66h0M75 29h0M147 48v1M106 62h0M114 110h0M2 155h0M60 81h1M65 162h0M162 55h0M112 151v1M61 16v1M93 98h0M17 61v1M113 97h1M49 25h0M26 88h0M107 112v1M54 104h0M126 123h0M124 129h0M55 107h1M91 88h0M31 75v1M79 164h0M23 63h0M52 95v1M132 80h0M121 44h1M163 16h0M67 117h0M87 73h0M3 141h1M146 147h0M54 146h0M142 153h1M37 151h0M54 94h0M23 87h1M107 8h0M135 35h0M70 44h0M146 39h0M131 68h0M53 1h0M134 43h1M38 158h0M78 37h1M13 150h0M61 70h0M97 59v1M162 33h0M156 121h0M39 120h0M63 116h0M141 158h0M139 155h0M13 155h0M25 160h0M21 79h0M73 23h0M67 160h0M110 93h0M162 14h0M149 152h0M120 161h0M142 85h0M144 95h0M164 31h0M79 141h0M111 50h1M125 95h0M140 123h0M100 108h0M112 114h0M64 73h0M138 147h0M54 87h1M30 59h0M51 46h0M56 108h0M148 101h0M73 88h0M145 108v1M97 86h0M104 147h0M119 20h1M65 106h0M161 32h0M149 13h0M119 97v1M7 152h1M165 100h0M125 163h0M99 141h1M130 114v1M42 54h0M149 61h0M126 143h0M111 2h0M29 98h0M159 22h0M162 69h0M34 15h0M10 134h0M74 26h0M147 65h0M109 88h0M111 128h0M158 27v1M38 53h1M76 57h0M111 161v1M86 157h0M102 89h0M138 26h0M82 5h1M142 156h0M14 68h0M148 89h0M147 68h1M41 140h0M103 132h0M18 158h1M153 89h0M114 136h0M6 138h0M10 73h1M130 121h0M90 128h0M12 131h0M49 87h0M52 119h0M158 51h0M100 11v1M111 42h0M74 70h1M36 9h0M95 28h0M59 91h1M50 73h0M126 63h0M50 90h0M128 67h1M37 117h0M78 62h0M81 144v1M15 45h1M88 135h0M125 105h0M13 164v1M151 27v1M94 30h0M110 62h0M71 24h0M17 111h0M27 62h0M112 113h0M36 3h0M92 68v1M17 132h0M37 17h0M53 117h0M105 158h0M10 4v1M155 53v1M81 29h0M69 80v1M25 137h0M25 80h0M15 88h0M92 8h0M81 61h1M153 84h0M74 63h1M126 120h1M123 47h0M66 8h0M82 109h0M59 160h0M56 86v1M147 146h0M76 10h0M18 149h1M74 15v1M30 70h0M130 60h0M18 21h1M82 90v1M51 113h0M123 76h0M54 11h0M51 65h0M5 40h0M130 113v1M25 64h0M5 5h0M115 82h1M166 154h0M79 165v1M147 65v1M99 19h1M37 148h0M57 163h0M86 23h1M144 90h1M158 161h0M123 23h0M114 3h0M125 105h0M49 18h0M6 108v1M60 24h0M88 58h0M113 116h0M110 64h0M113 84h0M70 14h0M39 69h1M15 87h0M146 156h0M47 43h0M98 159h0M165 25h0M140 71v1M12 69h0M53 95h0M103 86h0M128 78h0M97 118h0M4 136h0M162 45h1M147 131h0M89 10h0M4 129h0M126 165h0M154 156h0M154 96h0M25 119h0M37 85h0M41 142h0M36 135v1M60 15h1M120 39h0M31 90v1M137 67v1M83 112h0M123 116h1M54 150v1M30 17h0M51 74h0M141 135h0M148 7h0M134 37h1M112 52h0M42 46h0M127 34v1M152 5h0M70 147h0M46 9h1M9 112v1M130 93h0M155 63v1M133 106h0M135 118h0M43 7h0M46 166h1M93 18h0M164 60h0M57 157v1M67 54h0M2 7h0M25 62h0M74 115h0M121 12h1M90 61h1M99 21h0M43 137h0M147 4h0M88 15h0M82 68h0M124 80h0M41 71h0M92 90h0M54 52h0M84 40v1M17 166h0M73 54h0M21 99h0M62 87h0M134 127h0M68 115h0M57 19h1M166 96h0M156 134h0M24 63h0M15 120v1M164 151h0M49 64h0M122 99h1M37 36v1M166 20h0M75 56h1M32 115v1M112 3h0M77 4h0M56 56h0M146 106v1M74 11h0M6 40h0M34 165h1M131 49h0M138 22h0M61 74h0M48 92h0M25 132h1M91 101h0M89 16h0M74 15h0M18 90h0M16 118h0M7 113h0M108 110h0M159 19h0M150 11h0M131 79h1M98 162h0M25 79v1M127 96h0M136 26h1M35 45h0M50 20h0M150 61h0M122 29h0M114 122h0M24 123v1M123 150h0M96 55h0M143 18h0M9 110h1M50 166h0M4 15h0M115 152h0M124 104h1M46 75h0M132 68h0M92 135h0M163 163h0M78 155h0M157 101h0M98 69h0M117 42h0M39 110h1M116 159v1M127 44h0M21 21h0M119 142h1M80 62h0M95 108h0M24 101h0M155 165h1M23 2h0M119 148h0M2 119h0M108 43h0M150 7h0M47 127h0M133 112h0M26 72h1M53 132h0M1 121h0M155 85h1M42 110h0M69 83h1M140 99h0M150 88h0M141 141h0M55 22h0M120 53h0M42 133h0M132 139h0M103 14h1M47 78h0M156 101h0M164 80h0M20 128h0M149 50h0M144 54h0M65 28h0M20 44h0M83 159h0M158 91h0M20 8h0M109 67h0M38 46v1M17 20h1M162 146h0M4 61v1M78 56h0M4 121h0M90 51v1M143 148h0M96 50h0M58 26h0M84 107h0M117 113h1M56 13h0M136 96v1M143 145v1M24 137v1M97 53h0M22 102h0M104 3h0M12 122h0M33 99h0M104 90h0M57 68h0M81 58h1M116 56h1M74 116h0M71 24h0M48 41v1M124 165h0M124 114h0M119 7v1M40 30v1M58 160h0M5 156h0M114 136h0M158 166h0M166 112h1M114 129v1M129 79h0M77 21h0M143 115h1M27 106h0M162 149h0M74 80h0M59 26h0M94 89h1M95 164h0M134 105h0M123 164h0M84 129h0M73 133h0M94 14h0M12 55h0M142 62h0M104 11h0M100 93v1M128 109h1M7 165h1M79 35h0M81 7h1M127 80h0M54 3h0M152 30h1M113 52v1M28 93h0M38 30h0M1 26h0M122 126h0M154 162h0M1 125h0M99 46h0M120 30v1M33 97h0M20 146h0M136 11h0M6 61v1M15 153h0M97 20v1M140 164h0M46 96h0M86 32h0M66 80h0M44 129h0M56 47h0M118 99h0M145 10h0M48 72h1M131 59h0M43 123v1M100 15h0M17 58v1M44 120h0M30 113h0M109 30h0M29 103h0M66 8h0M94 54v1M108 165h0M114 75h0M17 124h0M37 115h0M44 157h0M164 68h0M139 126h1M127 34h0M56 30h0M159 50h0M127 155h0M116 158h0M81 153h0M99 78h0M160 82h0M49 140h1M21 107v1M51 72h0M26 111h1M61 36h0M98 72h0M129 100h0M103 157v1M160 113h1M108 22h0M93 61v1M23 9h0M113 107h0M126 108v1M27 166v1M75 62h0M136 88h0M20 93h0M147 16h0M20 153h0M82 105v1M138 11h0M59 6h0M157 134h1M110 102v1M107 150v1M45 3h0M74 18h0M94 161h1M136 5h0M59 142h0M68 160h0M34 145h1M18 160h1M128 110v1M151 102h0M30 60h0M55 151h0M81 135h0M18 112h0M41 156h0M121 95v1M77 113h0M152 119h0M59 24h0M40 85h0M67 98h0M22 39h0M86 102h0M89 140h0M116 157h0M6 54h0M96 96h0M34 98h1M163 91h0M61 6h0M70 71v1M69 36h0M79 24h0M151 105h0M99 122h0M38 7h0M164 129h0M126 2v1M3 69v1M18 49h0M64 122h1M17 114h0M158 61h0M6 81h0M149 15h0M44 159h0M77 43h0M165 158h0M55 158h0M138 130h0M66 64h0M79 140h1M126 102h0M79 60h0M94 128h0M73 163h0M28 7v1M36 38h0M82 120h1M54 33h0M79 31h0M32 106h0M31 51h1M10 136h0M98 75h0M96 113h1M90 42h0M56 146h0M148 60h0M103 109h0M66 22h1M145 94h0M33 102v1M128 21h0M93 45v1M152 67h1M57 71v1M138 149h1M135 17h0M72 159h0M153 11h0M141 41h0M125 149v1M51 136h0M24 129v1M63 28h0M123 68h0M87 144h0M38 118h0M64 135h0M90 50h0M60 138h0M125 148h0M29 146h0M112 126h0M17 120h0M139 118v1M23 123h0M135 153h1M134 42v1M132 95h0M63 17v1M10 11h0M57 119h1M46 131v1M101 87v1M115 14h0M40 92h0M77 128v1M134 130h0M139 124h0M49 133h0M13 134h0M75 101h0M132 11h0M166 125v1M126 4h0M50 120h1M1 18h0M22 124h0M61 64h0M79 18v1M137 102h0M135 31h0M83 18h0M105 60h0M81 62h0M158 52h0M67 139h1M51 126h0M117 82h0M108 126h0M77 129v1M73 83h0M55 92v1M160 23h0M18 96h0M134 67h0M21 151v1M27 127h1M6 103v1M100 88h0M91 112h0M59 92h0M100 65h0M37 120h0M14 69h0M86 162h0M49 73h0M93 137h0M53 97h1M3 5h0M31 4h0M14 5h0M124 166h0M73 111v1M114 114h0M160 127h0M108 70h0M2 61h0M59 146h1M119 114h0M70 106h0M151 157h0M10 121h0M52 129h0M3 103h0M56 9v1M58 27h0M159 59h0M62 34h0M149 18h0M92 94h0M81 94h0M22 65h1M36 12h0M160 18h0M165 52v1M15 7h1M165 116h1M114 164h0M61 153h0M97 101h0M14 84h0M97 118h0M150 157h0M153 69h0M138 94h0M107 160h0M27 107v1M52 2h0M107 10h0M15 61v1M158 72h0M21 46h0M40 127h0M129 5h0M54 78h0M129 73h1M70 14h0M68 116h1M62 29h0M73 95v1M124 34h0M14 33v1M32 7h0M46 69h0M36 30h0M28 125h0M33 116h0M130 20h0M104 71h1M9 101h0M158 108h0M53 125h0M142 5h1M47 57v1M77 128h1M24 134h1M97 55h0M42 110h0M3 29h0M83 127h0M151 49h0M29 68h0M1 138h0M162 143h0M120 160h0M32 162v1M90 4h0M116 19h0M57 112h0M50 7h0M82 15v1M52 60h0M63 56h0M68 68h0M24 92h0M102 27h0M102 163h0M52 16h0M126 99h0M112 69h0M53 135h0M60 130h0M10 67h0M156 159v1M165 53h0M6 16h0M137 73h0M80 125h0M91 16h0M118 3h0M150 130h1M16 165h0M48 81v1M65 111h0M115 51h1M112 63h0M149 114h0M81 161v1M127 55h0M40 149h0M148 112h0M63 61h0M90 54h0M1 121h0M58 133h0M52 56h0M25 20h1M116 42h1M143 16v1M136 104h0M90 48h1M92 154h1M51 43h0M73 23h0M61 46h0M165 106h0M29 111h0M12 129h0M7 115h0M41 87v1M10 135h0M28 3v1M163 164h0M33 140h0M58 110h0M71 133h1M12 4h1M33 113h0M18 117h1M127 165v1M160 93h0M56 108h0M30 114h0M54 10h0M165 7h0M124 83h0M104 113h0M40 11v1M21 6v1M88 158h1M112 140v1M46 89h0M140 113h0M27 145v1M56 119h0M138 87h0M47 61h0M143 139h0M63 52v1M69 127h1M44 151h0M155 161h0M19 72h0M22 146h0M165 52h0M145 122h0M33 154h0M137 96h1M17 24h0M59 103h1M9 54h0M62 106h0M113 14h0M159 24v1M109 44h0M83 10h0M62 95h0M12 91h0M6 60h0M37 42h0M78 93h0M39 58h0M64 111h0M124 159h0M140 121h0M130 74h0M139 128h0M3 1h0M94 131h0M16 3h0M115 35h0M108 22h1M154 20h0M144 133h0M21 41h0M80 113h0M68 16h0M68 151v1M113 4h0M74 125h0M63 45v1M60 85h0M96 30h0M140 161v1M122 69h1M66 157v1M74 38h0M39 62h1M79 54h0M163 130h0M88 5h0M119 23v1M148 102h0M110 18h0M97 105h0M20 19v1M70 64v1M95 54h0M76 102h0M161 91h0M14 54v1M143 34h1M104 85h0M45 34h0M58 152v1M56 33h0M59 131h1M58 72h0M52 69h0M127 64h0M26 31h0M128 53v1M21 152h0M141 78h0M166 85h0M44 1h1M111 85h1M83 80h0M72 11v1M20 37h0M142 107h0M5 41v1M109 108h1M30 82h0M85 39h1M85 70v1M14 124v1M152 57h0M125 76v1M148 92h0M120 113h0M45 109h0M37 47h0M112 82h0M154 145h0M1 145h1M165 83v1M163 50h0M120 163h0M107 142h0M86 78v1M59 27h0M30 109v1M149 145v1M5 128h1M1 28h0M43 85h1M116 151h0M129 111h1M51 122h1M29 157h0M43 42v1M31 18h0M77 83h0M157 141h0M154 130h0M101 24h0M87 4h0M26 58v1M144 50v1M140 116h0M55 56h0M150 115v1M85 143h0M37 163v1M126 35h0M17 111h1M36 19h0M157 143h0M81 76h0M17 107h0M51 166h0M47 102v1M103 115h0M60 96h1M125 75h0M99 154h1M42 84v1M88 92h0M22 87h0M97 35h0M19 88h0M43 135h1M31 67h0M149 52v1M86 160h0M22 2h0M21 78v1M11 24h0M143 96h1M46 88h0M58 31h0M30 52h0M124 86h0M145 48h0M70 162v1M102 39h0M144 49h0M42 91h0M111 25h0M74 98h1M145 146h1M85 69h1M52 19h0M148 65h0M76 140v1M114 160h0M124 86h1M92 36h0M66 88h0M76 55h0M147 86v1M3 95h0M15 133h0M17 125h0M29 118h0M166 67h0M19 97h1M8 72h0M95 52h0M98 156h0M109 33h0M4 54h0M139 95v1M55 81h0M82 14h0M7 68h1M17 105v1M74 138h0M59 146h1M148 160h0M61 12h1M68 29h0M111 71h1M13 115h0M20 155v1M82 53h0M159 165h0M107 35h1M124 142h0M96 43v1M73 120h0M157 83h0M145 132h0M34 154v1M7 132h1M52 20h0M107 128h0M74 72h0M77 104v1M44 52v1M84 117h0M59 78h0M51 5h0M72 128h0M131 101h1M94 12h0M43 61h0M80 139h0M97 144h1M50 48h0M149 38h0M47 65h0M117 76h0M109 107h0M13 149h0M152 71v1M86 159v1M113 161h1M63 9h0M1 37v1M11 79h0M23 96h0M87 145v1M34 132h0M90 44h0M166 100h0M43 80h0M90 137h0M131 29h0M16 104h0M17 144h0M54 42h1M29 152h1M93 62h0M3 146h0M136 24h0M41 59h0M87 55h0M47 86h1M90 149h0M63 14h0M1 115h0M45 148h0M157 37h0M91 6h0M122 165h0M82 56h0M102 21h0M59 99h0M85 131v1M46 100v1M154 22v1M155 142v1M110 149h0M98 79h0M40 9h0M42 120h0M48 123h1M156 134h0M25 25h0M41 12h0M63 143h1M157 29h0M161 112h0M42 82h0M48 75h0M92 132h0M85 17v1M91 121h0M53 4h0M110 86h0M166 136h1M71 72h0M26 10h0M124 129h0M128 165h0M96 63h0M164 64v1M149 23h0M61 144v1M155 68h0M158 148v1M49 136h0M20 113h0M66 5h0M85 141h0M7 4h0M111 104h1M59 29h0M18 46h0M102 80h0M136 113h1M86 120h1M16 5h0M86 71h0M51 4h0M152 146h0M137 89h0M140 7h0M58 42h0M41 72h0M11 140h0M23 71h0M102 59h1M137 148h1M92 163h0M66 151h0M46 38v1M112 139h0M143 109h0M53 26h0M83 14h0M29 92h0M63 150h0M27 46h1M129 103h0M13 5h0M27 60h1M1 21h0M139 69v1M19 124h0M75 35h0M22 32h0M135 16h0M135 98h0M5 90v1M11 113h0M23 62h0M38 63v1M139 74v1M55 107h0M122 71v1M4 36h0M10 84h0M130 13h0M35 121h0M163 90h1M150 149v1M125 68h0M74 155v1M88 121v1M95 144h0M84 97h1M17 8v1M60 32h0M136 78v1M19 41v1M133 74h0M72 52h0M154 129h0M127 10v1M5 20h0M117 72h0M21 72h0M60 142h0M118 3h0M126 35h0M89 148h1M162 13h0M93 5h0M2 77h0M152 53h1M32 53h0M58 112h0M7 138h0M17 96h1M155 166h0M117 37h0M161 13h0M69 7h1M57 79h0M111 52v1M83 15h0M97 21v1M153 73h1M155 133h0M105 55h0M126 45h0M162 25v1M115 162v1M141 154v1M163 144h0M79 163h0M92 158h0M107 66h1M42 85h0M95 92h0M68 79h1M22 24h0M86 52h0M143 11h0M62 39h0M67 145h0M121 156h1M142 35h0M142 14h0M113 69h1M8 53h0M106 140h0M34 96h0M140 13h1M132 34h0M55 157h0M60 19h0M5 17h0M141 100h0M92 42v1M38 59h0M128 54h0M72 68h0M51 136h0M9 53h0M13 96h0M14 108h0M83 139h0M132 111h1M96 112h0M76 87h0M65 87h0M145 86h1M111 62h0M2 14h0M55 48h0M58 22h0M36 164h0M34 150h0M136 130h1M86 133h0M82 7h0M127 79h0M154 69h1M85 165v1M124 51h1M157 161h0M29 24h0M1 54h0M23 162h1M36 150h0M111 43h0M104 10h0M166 53h0M135 13h0M125 159h0M123 81h0M86 61h0M129 48h0M164 68v1M5 71v1M8 117h0M126 94v1M127 52h0M22 84h0M101 88h0M106 115h0M151 73h0M64 14h0M48 99h0M53 78v1M122 30h0M146 18h0M109 79h0M69 31h0M105 71h0M111 156h0M99 86h0M101 100v1M58 108h0M75 53h0M71 92h0M163 164h0M132 111h0M104 17v1M105 90h0M58 55v1M163 23h0M141 12h0M166 118v1M140 156v1M140 12h0M67 112v1M45 122h0M74 138h0M68 129h1M160 94h1M82 54h0M90 27h0M65 11h1M20 74h0M148 138v1M117 124h0M6 44h0M104 88h0M130 116h0M105 88h0M7 120h0M98 86h0M31 93v1M109 24h0M27 79h0M78 56h0M2 6v1M76 53h0M147 117h0M12 146h0M65 34h0M150 16h0M112 140h1M161 31h0M7 13h0M39 148h0M114 147h0M1 68h0M50 163v1M49 18h0M46 141h0M41 88v1M4 101v1M115 35h0M37 119v1M165 96h0M51 60h0M163 52v1M74 93v1M80 40v1M32 152h0M153 161h1M8 37h1M56 90h0M147 58h0M42 12h0M117 151h0M154 71h0M81 51v1M94 123h0M10 118h0M27 26h0M17 113h0M5 96h0M2 127v1M128 48h1M151 154v1M158 23h0M116 80h0M78 130h0M24 148h1M82 2h0M107 38v1M157 128h1M85 66h0M28 133h0M93 7h1M47 51h0M66 46h0M44 34h0M42 100h0M18 40h0M94 142h0M130 98h0M131 149h0M100 116h0M118 158v1M145 29h0M139 145h0M83 74h0M4 137h0M131 162h0M76 132h1M160 34h0M163 29h0M74 56v1M111 146h0M63 145h0M157 73v1M50 118v1M127 98h0M57 19h0M160 18v1M36 154h1M41 9h1M69 21h0M114 157h0M55 121h0M116 152h1M13 122h1M111 67h0M8 52h0M43 135v1M110 40h0M52 125h0M30 141h1M81 90h0M87 55h0M105 120v1M106 26h0M133 23h0M65 43h1M146 163h0M113 22h0M3 21h0M137 85h0M142 54h1M33 163h1M162 60h0M137 20h0M101 50h1M166 160h1M102 165h0M130 58h0M32 1v1M93 46h0M19 78h0M151 120h0M50 122h0M72 36h0M123 45h0M44 150h0M157 13v1M41 86h0M11 83h0M40 44v1M44 40h1M43 106h0M13 93h0M155 87h0M20 45h1M69 99h0M94 25h0M142 36v1M80 126h0M82 16v1M46 44h0M119 152h0M84 19v1M99 146h0M62 21h0M86 1h0M137 126h0M16 63h0M81 83h0M39 71h0M24 24h1M98 137h0M74 129h1M83 101h0M115 161h0M162 146h0M166 73h0M61 16h1M81 44h1M20 17h0M65 99h0M11 74h1M76 162v1M54 82h0M119 51h0M138 46h0M133 143h0M29 88h0M83 140h0M147 47h0M164 136h0M55 46h0M139 17h0M139 40v1M122 31h0M141 59h0M26 43h0M92 53h0M28 129h0M9 5h0M2 65h0M97 1h0M138 101h0M158 45v1M63 132v1M162 134h1M44 7h0M83 10h1M151 70h1M39 44v1M104 53h0M66 31h0M78 46h0M5 151h0M10 9h1M129 141h0M8 2h0M81 41v1M123 114h0M58 113h0M80 92h0M127 16h0M80 127h1M98 73h0M99 150h0M119 92h1M8 75h0M158 120h0M44 122h0M137 57h0M138 138h0M70 61h0M119 33h0M33 122h0M93 6h1M146 23h0M81 17h0M102 113h0M62 123v1M11 129v1M7 26h0M127 106h0M138 87h0M90 48h0M106 114h0M37 141h1M118 30h0M86 139h0M137 149h0M45 50h0M64 104v1M29 70h1M82 63h0M99 81h0M127 46h0M19 18h1M166 43h1M57 12h1M91 87h0M84 42h0M143 10h0M142 95h0M98 157h0M85 11h0M68 19h0M102 122h0M130 48h0M107 89v1M108 160v1M159 137h0M47 119h0M123 1h0M61 123h0M8 121h0M101 55h0M158 5h0M69 91h0M143 43h0M149 36h0M124 116h0M135 156v1M126 132h0M126 117h0M12 125h0M106 129v1M62 77h1M41 67h0M9 100h0M87 49h0M98 121h0M70 140h0M102 105h0M138 99v1M160 95h0M10 67h0M53 73h0M40 81h0M161 91h0M134 127h0M18 4h0M72 84h1M100 60h0M44 152h1M158 70h0M117 89h1M26 90h1M119 55h0M141 90v1M126 5h0M164 7h0M42 114h0M124 19h0M34 67h0M30 42v1M100 104h0M90 140h0M166 112h0M22 41h0M4 131h0M136 83h0M138 91h1M160 54h0M50 133h0M72 75h0M7 10h0M13 18h0M21 22v1M161 47h0M118 47h0M151 5v1M4 100h0M32 156v1M22 22v1M44 70h0M95 35h0M42 113h0M14 27h1M71 81h0M92 98h0M49 88h0M53 164h0M146 87h0M130 53h0M2 130h1M67 10h0M122 18h0M83 154h1M91 48h0M53 108h0M17 137h0M21 4v1M156 57h0M58 91h0M113 3v1M93 108h0M46 101h0M28 69h1M163 118h0M146 107h0M124 144h0M148 43h0M153 101h0M54 26h0M58 81h0M1 5h0M42 27h0M161 29h0M14 117h0M57 20h0M102 6h0M151 41h0M87 119h0M94 2h0M70 63v1M59 53h0M129 101h0M103 23v1M141 4h0M51 163h0M57 27h0M134 115h0M113 42h0M32 62h0M60 111h0M134 99h0M47 109h0M154 21h0M76 41h0M92 4v1M166 118h0M50 78h0M125 54h0M108 13h0M115 110h0M117 53h0M73 51h0M133 98h0M84 9h0M131 4h0M112 145h0M29 67h0M155 162h1M89 54h0M152 150h0M71 160h0M157 50h1M78 86h0M148 123h0M148 17v1M78 67h0M89 149h0M117 112h0M136 50h0M17 16h1M45 128h0M120 80h1M62 69v1M101 20h0M137 94h1M48 162h0M116 78h0M114 163h1M119 56h0M22 40v1M93 150h0M29 96h0M115 117v1M138 94h1M141 93h0M89 153v1M73 45h1M28 116h0M89 18h0M37 135h0M140 41h0M139 97h0M91 133v1M165 147h0M158 133h1M114 14h0M41 112h0M41 162h0M157 55h0M11 66h1M155 11v1M5 83h0M113 74h0M95 83h0M109 9v1M102 131v1M157 111h0M137 111h0M162 76h0M147 97h0M69 140h0M88 68v1M53 107h0M114 42h0M83 158h0M135 32h0M15 67h0M65 80h0M121 162h0M29 13h1M111 140h0M148 119h1M76 25h1M41 23h0M112 141h0M53 134h0M87 8h0M20 68v1M25 91v1M164 60v1M135 28h0M22 33h0M142 40h1M114 2h0M46 151h0M91 40h0M64 114h0M154 72h0M97 133h0M47 86h0M1 139h0M105 127v1M106 151v1M33 74v1M101 43h1M116 143h0M132 137h0M20 164h0M136 28v1M91 23h0M99 20h0M129 55h0M145 50v1M16 100v1M10 143h0M164 69h0M117 144h0M157 126v1M160 47h0M148 15v1M158 66v1M117 52h0M162 41h1M92 117h0M24 118h1M61 62h0M65 78h0M103 91h0M109 163v1M37 31h0M16 155h0M139 56v1M81 144h0"/>
</defs>
<g transform="translate(235.5 27.5)" fill="none" stroke-linecap="square">
<use href="#s20" stroke="#fff" stroke-width="2" stroke-opacity="0.3"/>
<use href="#s21" stroke="#b8b8b8" stroke-width="2" stroke-opacity="0.3"/>
<use href="#s22" stroke="#707070" stroke-width="2" stroke-opacity="0.3"/>
<use href="#s23" stroke="#3c3c3c" stroke-width="2" stroke-opacity="0.3"/>
<use href="#s23" stroke="#3c3c3c" stroke-width="1"/>
<use href="#s22" stroke="#707070" stroke-width="1"/>
<use href="#s21" stroke="#b8b8b8" stroke-width="1"/>
<use href="#s20" stroke="#fff" stroke-width="1"/>
</g>
</g>
<rect x="196.9" y="181.7" width="17.2" height="2.2" fill="#f4f4f4"/>
<text transform="translate(44.7 8.1) scale(1.04 1)" font-weight="bold" style="stroke-width:.06px">a</text>
<text transform="translate(130 18.7) scale(1.04 1)">WT</text>
<text transform="translate(285.8 18.7) scale(1.1 1)" font-style="italic" style="stroke-width:.25px">Disc1</text>
<text transform="translate(314.1 18.7) scale(1.015 1)">-deficient</text>
<defs>
<filter id="bl1" x="-50%" y="-50%" width="200%" height="200%"><feGaussianBlur stdDeviation="1.6"/></filter>
<filter id="bl2" x="-50%" y="-50%" width="200%" height="200%"><feGaussianBlur stdDeviation="2.2"/></filter>
<clipPath id="cb1"><rect x="474.3" y="21.2" width="58.7" height="58.3"/></clipPath>
<clipPath id="cb2"><rect x="551.2" y="20.4" width="59.9" height="60.2"/></clipPath>
</defs>
<rect x="474.3" y="21.2" width="58.7" height="58.3" fill="#000"/>
<g clip-path="url(#cb1)">
<rect x="498" y="44.5" width="12" height="19" rx="4" fill="#4a4a4a" filter="url(#bl2)"/>
<ellipse cx="503.6" cy="51" rx="3.2" ry="4.5" fill="#909090" filter="url(#bl1)"/>
<ellipse cx="503.5" cy="50.3" rx="1.6" ry="2.1" fill="#fff" filter="url(#bl1)"/>
<ellipse cx="504.6" cy="59" rx="2.2" ry="3" fill="#5e5e5e" filter="url(#bl1)"/>
<ellipse cx="508.3" cy="64" rx="1.6" ry="1.8" fill="#606060" filter="url(#bl1)"/>
<ellipse cx="485" cy="54.5" rx="2" ry="2.4" fill="#484848" filter="url(#bl1)"/>
<ellipse cx="494" cy="41" rx="2" ry="2" fill="#262626" filter="url(#bl1)"/>
<ellipse cx="477.3" cy="37" rx="1.4" ry="2.5" fill="#202020" filter="url(#bl1)"/>
<ellipse cx="530.5" cy="37" rx="1.4" ry="2.5" fill="#202020" filter="url(#bl1)"/>
<ellipse cx="477" cy="52" rx="1.2" ry="3.5" fill="#222" filter="url(#bl1)"/>
</g>
<rect x="551.2" y="20.4" width="59.9" height="60.2" fill="#000"/>
<g clip-path="url(#cb2)">
<ellipse cx="583" cy="56.5" rx="4.5" ry="7" fill="#808080" filter="url(#bl2)"/>
<path d="M581.3 58.5 L584.6 50.2 L586.6 50.2 L587 58.5 Z" fill="#fff" stroke="#fff" stroke-width="3.6" stroke-linejoin="round" filter="url(#bl1)"/>
<ellipse cx="582.8" cy="63.3" rx="2.4" ry="2" fill="#8a8a8a" filter="url(#bl1)"/>
<path d="M580 65.5 Q574 67.5 570 67.5 T562 71" fill="none" stroke="#3c3c3c" stroke-width="3.5" stroke-linecap="round" filter="url(#bl1)"/>
<ellipse cx="561" cy="71.5" rx="3.4" ry="2.6" fill="#707070" filter="url(#bl1)"/>
<ellipse cx="555.8" cy="68" rx="2.6" ry="2.2" fill="#505050" filter="url(#bl1)"/>
<ellipse cx="576.5" cy="60.5" rx="1.8" ry="2.2" fill="#4a4a4a" filter="url(#bl1)"/>
</g>
<rect x="592" y="69.0" width="12.2" height="2.5" fill="#fff"/>
<text transform="translate(438.7 8.3) scale(1.04 1)" font-weight="bold" style="stroke-width:.06px">b</text>
<text transform="translate(495.8 8.7) scale(1.04 1)">WT</text>
<text transform="translate(545.8 8.9) scale(1.1 1)" font-style="italic" style="stroke-width:.25px">Disc1</text>
<text transform="translate(574.1 8.9) scale(1.015 1)">-deficient</text>
<text transform="translate(439.5 89.8) scale(1.04 1)" font-weight="bold" style="stroke-width:.06px">c</text>
<text transform="translate(452 219.3) rotate(-90) scale(1.04 1)">Density of clusters (/μm<tspan font-size="6.5" dy="-3.5">3</tspan><tspan dy="3.5">)</tspan></text>
<line x1="482.05" y1="104.0" x2="482.05" y2="210.5" stroke="#000" stroke-width="1.4" stroke-linecap="butt"/>
<line x1="477.85" y1="209.9" x2="614.5" y2="209.9" stroke="#000" stroke-width="1.4" stroke-linecap="butt"/>
<line x1="477.85" y1="104.6" x2="482.05" y2="104.6" stroke="#000" stroke-width="1.2" stroke-linecap="butt"/>
<text transform="translate(470.9 108.35) scale(0.96 1)" text-anchor="end">15</text>
<line x1="477.85" y1="139.6" x2="482.05" y2="139.6" stroke="#000" stroke-width="1.2" stroke-linecap="butt"/>
<text transform="translate(470.9 143.35) scale(0.96 1)" text-anchor="end">10</text>
<line x1="477.85" y1="174.8" x2="482.05" y2="174.8" stroke="#000" stroke-width="1.2" stroke-linecap="butt"/>
<text transform="translate(470.9 178.55) scale(0.96 1)" text-anchor="end">5</text>
<text transform="translate(470.9 213.65) scale(0.96 1)" text-anchor="end">0</text>
<rect x="504.0" y="142.7" width="21.6" height="67.20000000000002" fill="#000"/>
<line x1="515.6" y1="135.9" x2="515.6" y2="142.7" stroke="#000" stroke-width="1.3" stroke-linecap="butt"/>
<line x1="513.2" y1="136.0" x2="518.0" y2="136.0" stroke="#000" stroke-width="1.3" stroke-linecap="butt"/>
<rect x="571.4" y="134.4" width="21.0" height="75.5" fill="#ff0000" stroke="#000" stroke-width="1.25"/>
<line x1="581.8" y1="129.3" x2="581.8" y2="133.8" stroke="#000" stroke-width="1.3" stroke-linecap="butt"/>
<line x1="579.4" y1="129.4" x2="584.1999999999999" y2="129.4" stroke="#000" stroke-width="1.3" stroke-linecap="butt"/>
<path d="M515.8 114.2V104.2H581.7V114.2" fill="none" stroke="#000" stroke-width="1.45"/>
<text transform="translate(548.4 107.3) scale(1.04 1.3)" text-anchor="middle" font-weight="bold" style="stroke-width:.06px">*</text>
<text transform="translate(508 228.8) scale(1.04 1)">WT</text>
<text transform="translate(550.8 229) scale(1.1 1)" font-style="italic" style="stroke-width:.25px">Disc1</text>
<text transform="translate(579.1 229) scale(1.015 1)">-deficient</text>
<text transform="translate(5 250.4) scale(1.04 1)" font-weight="bold" style="stroke-width:.06px">d</text>
<text transform="translate(10 344.8) rotate(-90) scale(1.04 1)">Area (nm<tspan font-size="6.5" dy="-3.5">2</tspan><tspan dy="3.5">)</tspan></text>
<line x1="65.5" y1="271.2" x2="65.5" y2="368.8" stroke="#000" stroke-width="1.4" stroke-linecap="butt"/>
<line x1="61.3" y1="368.2" x2="191" y2="368.2" stroke="#000" stroke-width="1.4" stroke-linecap="butt"/>
<line x1="61.3" y1="271.8" x2="65.5" y2="271.8" stroke="#000" stroke-width="1.2" stroke-linecap="butt"/>
<text transform="translate(51.4 275.55) scale(1.04 1)" text-anchor="end">60,000</text>
<line x1="61.3" y1="304" x2="65.5" y2="304" stroke="#000" stroke-width="1.2" stroke-linecap="butt"/>
<text transform="translate(51.4 307.75) scale(1.04 1)" text-anchor="end">40,000</text>
<line x1="61.3" y1="336.1" x2="65.5" y2="336.1" stroke="#000" stroke-width="1.2" stroke-linecap="butt"/>
<text transform="translate(51.4 339.85) scale(1.04 1)" text-anchor="end">20,000</text>
<text transform="translate(51.4 371.95) scale(1.04 1)" text-anchor="end">0</text>
<rect x="86.4" y="330.2" width="21" height="38.0" fill="#000"/>
<line x1="97.2" y1="303.2" x2="97.2" y2="330.2" stroke="#000" stroke-width="1.3" stroke-linecap="butt"/>
<line x1="94.8" y1="303.3" x2="99.60000000000001" y2="303.3" stroke="#000" stroke-width="1.3" stroke-linecap="butt"/>
<rect x="150.2" y="320.0" width="19.400000000000002" height="48.20000000000001" fill="#ff0000" stroke="#000" stroke-width="1.25"/>
<line x1="160" y1="278.8" x2="160" y2="319.4" stroke="#000" stroke-width="1.3" stroke-linecap="butt"/>
<line x1="157.6" y1="278.90000000000003" x2="162.4" y2="278.90000000000003" stroke="#000" stroke-width="1.3" stroke-linecap="butt"/>
<path d="M95.4 275V265.35H160V275" fill="none" stroke="#000" stroke-width="1.45"/>
<text transform="translate(126.9 268.8) scale(1.04 1.3)" text-anchor="middle" font-weight="bold" style="stroke-width:.06px">**</text>
<text transform="translate(89.2 384.8) scale(1.04 1)">WT</text>
<text transform="translate(131.9 384.9) scale(1.1 1)" font-style="italic" style="stroke-width:.25px">Disc1</text>
<text transform="translate(160.2 384.9) scale(1.015 1)">-deficient</text>
<text transform="translate(199.5 250.4) scale(1.04 1)" font-weight="bold" style="stroke-width:.06px">e</text>
<text transform="translate(210 369.2) rotate(-90) scale(1.04 1)">Amount of molecules</text>
<text transform="translate(222 351) rotate(-90) scale(1.04 1)">/ cluster (AU)</text>
<line x1="257.5" y1="271.0" x2="257.5" y2="367.6" stroke="#000" stroke-width="1.4" stroke-linecap="butt"/>
<line x1="253.3" y1="367.0" x2="384.2" y2="367.0" stroke="#000" stroke-width="1.4" stroke-linecap="butt"/>
<line x1="253.3" y1="271.6" x2="257.5" y2="271.6" stroke="#000" stroke-width="1.2" stroke-linecap="butt"/>
<text transform="translate(246.2 275.35) scale(1.04 1)" text-anchor="end">300</text>
<line x1="253.3" y1="303.4" x2="257.5" y2="303.4" stroke="#000" stroke-width="1.2" stroke-linecap="butt"/>
<text transform="translate(246.2 307.15) scale(1.04 1)" text-anchor="end">200</text>
<line x1="253.3" y1="335.2" x2="257.5" y2="335.2" stroke="#000" stroke-width="1.2" stroke-linecap="butt"/>
<text transform="translate(246.2 338.95) scale(1.04 1)" text-anchor="end">100</text>
<text transform="translate(246.2 370.75) scale(1.04 1)" text-anchor="end">0</text>
<rect x="278.3" y="337" width="21.3" height="30.0" fill="#000"/>
<line x1="289.1" y1="308.5" x2="289.1" y2="337" stroke="#000" stroke-width="1.3" stroke-linecap="butt"/>
<line x1="286.70000000000005" y1="308.6" x2="291.5" y2="308.6" stroke="#000" stroke-width="1.3" stroke-linecap="butt"/>
<rect x="342.1" y="323.6" width="20.0" height="43.4" fill="#ff0000" stroke="#000" stroke-width="1.25"/>
<line x1="352.5" y1="280" x2="352.5" y2="323" stroke="#000" stroke-width="1.3" stroke-linecap="butt"/>
<line x1="350.1" y1="280.1" x2="354.9" y2="280.1" stroke="#000" stroke-width="1.3" stroke-linecap="butt"/>
<path d="M289.6 275V265.35H352.5V275" fill="none" stroke="#000" stroke-width="1.45"/>
<text transform="translate(319.6 268.9) scale(1.04 1.3)" text-anchor="middle" font-weight="bold" style="stroke-width:.06px">**</text>
<text transform="translate(282.2 384.8) scale(1.04 1)">WT</text>
<text transform="translate(324.4 384.9) scale(1.1 1)" font-style="italic" style="stroke-width:.25px">Disc1</text>
<text transform="translate(352.7 384.9) scale(1.015 1)">-deficient</text>
<text transform="translate(400.8 245.9) scale(1.04 1)" font-weight="bold" style="stroke-width:.06px">f</text>
<text transform="translate(411.7 374.5) rotate(-90) scale(1.04 1)">Cumulative frequency</text>
<line x1="445.3" y1="271.7" x2="445.3" y2="370.4" stroke="#000" stroke-width="1.4" stroke-linecap="butt"/>
<line x1="441.7" y1="366.5" x2="513.3000000000001" y2="366.5" stroke="#000" stroke-width="1.4" stroke-linecap="butt"/>
<line x1="512.7" y1="366.5" x2="512.7" y2="370.4" stroke="#000" stroke-width="1.3" stroke-linecap="butt"/>
<text transform="translate(434.4 370.25) scale(1.04 1)" text-anchor="end">0</text>
<line x1="441.7" y1="347.66" x2="445.3" y2="347.66" stroke="#000" stroke-width="1.2" stroke-linecap="butt"/>
<text transform="translate(434.4 351.41) scale(1.04 1)" text-anchor="end">0.2</text>
<line x1="441.7" y1="328.82" x2="445.3" y2="328.82" stroke="#000" stroke-width="1.2" stroke-linecap="butt"/>
<text transform="translate(434.4 332.57) scale(1.04 1)" text-anchor="end">0.4</text>
<line x1="441.7" y1="309.98" x2="445.3" y2="309.98" stroke="#000" stroke-width="1.2" stroke-linecap="butt"/>
<text transform="translate(434.4 313.73) scale(1.04 1)" text-anchor="end">0.6</text>
<line x1="441.7" y1="291.14" x2="445.3" y2="291.14" stroke="#000" stroke-width="1.2" stroke-linecap="butt"/>
<text transform="translate(434.4 294.89) scale(1.04 1)" text-anchor="end">0.8</text>
<line x1="441.7" y1="272.3" x2="445.3" y2="272.3" stroke="#000" stroke-width="1.2" stroke-linecap="butt"/>
<text transform="translate(434.4 276.05) scale(1.04 1)" text-anchor="end">1</text>
<polyline points="445.5,366.3 448.5,359.8 450.4,348 451.8,334.2 453.0,322 454.0,313 454.8,306 455.9,297.3 457.7,290.2 460.4,284.6 462.3,282 464.4,280.3 468.6,278.2 472.1,275.4 476.4,273.4 481.3,272.6 512.5,272.3" fill="none" stroke="#000" stroke-width="2" stroke-linejoin="round"/>
<polyline points="445.6,366.3 448.9,359.3 450.9,348 452.5,334.2 453.8,322 454.9,313 455.9,308.5 458.4,302.9 460.4,297.3 463,290.2 466.9,284.6 472.1,280.3 478.5,276.8 485.5,275 494,273.6 503,272.8 512.5,272.3" fill="none" stroke="#ff0000" stroke-width="2" stroke-linejoin="round"/>
<text transform="translate(482.7 288.4) scale(1.04 1)" text-anchor="middle" font-size="10">*</text>
<line x1="458" y1="334.4" x2="470.8" y2="334.4" stroke="#000" stroke-width="2.1" stroke-linecap="butt"/>
<line x1="458" y1="344.1" x2="470.8" y2="344.1" stroke="#ff0000" stroke-width="2.1" stroke-linecap="butt"/>
<text transform="translate(473.6 335.7) scale(1.04 1)">WT</text>
<text transform="translate(473.6 348.9) scale(1.09 1)" font-style="italic" style="stroke-width:.25px">Disc1</text>
<text transform="translate(473.8 362.1) scale(1.0 1)">-deficient</text>
<text transform="translate(444.3 386.9) scale(1.04 1)" text-anchor="middle">0</text>
<text transform="translate(511.8 386.9) scale(1.04 1)" text-anchor="middle">180,000</text>
<text transform="translate(537 245.9) scale(1.04 1)" font-weight="bold" style="stroke-width:.06px">g</text>
<text transform="translate(544.3 374.5) rotate(-90) scale(1.04 1)">Cumulative frequency</text>
<line x1="578.3" y1="271.7" x2="578.3" y2="370.5" stroke="#000" stroke-width="1.4" stroke-linecap="butt"/>
<line x1="574.6999999999999" y1="366.6" x2="646.0" y2="366.6" stroke="#000" stroke-width="1.4" stroke-linecap="butt"/>
<line x1="645.4" y1="366.6" x2="645.4" y2="370.5" stroke="#000" stroke-width="1.3" stroke-linecap="butt"/>
<text transform="translate(566.8 370.35) scale(1.04 1)" text-anchor="end">0</text>
<line x1="574.6999999999999" y1="347.74" x2="578.3" y2="347.74" stroke="#000" stroke-width="1.2" stroke-linecap="butt"/>
<text transform="translate(566.8 351.49) scale(1.04 1)" text-anchor="end">0.2</text>
<line x1="574.6999999999999" y1="328.88" x2="578.3" y2="328.88" stroke="#000" stroke-width="1.2" stroke-linecap="butt"/>
<text transform="translate(566.8 332.63) scale(1.04 1)" text-anchor="end">0.4</text>
<line x1="574.6999999999999" y1="310.02000000000004" x2="578.3" y2="310.02000000000004" stroke="#000" stroke-width="1.2" stroke-linecap="butt"/>
<text transform="translate(566.8 313.77000000000004) scale(1.04 1)" text-anchor="end">0.6</text>
<line x1="574.6999999999999" y1="291.16" x2="578.3" y2="291.16" stroke="#000" stroke-width="1.2" stroke-linecap="butt"/>
<text transform="translate(566.8 294.91) scale(1.04 1)" text-anchor="end">0.8</text>
<line x1="574.6999999999999" y1="272.3" x2="578.3" y2="272.3" stroke="#000" stroke-width="1.2" stroke-linecap="butt"/>
<text transform="translate(566.8 276.05) scale(1.04 1)" text-anchor="end">1</text>
<polyline points="578.4,366.3 579.2,347.5 580.5,328.8 581.5,318 582.5,310 583.9,304.3 585.5,297.3 587.8,290.2 590.2,284.6 593,280.3 596.5,276.8 600.1,275.2 605,273.5 609.2,272.6 645.4,272.3" fill="none" stroke="#000" stroke-width="2" stroke-linejoin="round"/>
<polyline points="578.5,366.3 580.8,347.5 582.8,328.8 584.2,318.3 586.7,310 588.1,304.3 590.6,297.3 593.4,287.4 596.5,283.9 601.5,280.3 608.5,276.8 615.6,273.2 619,272.5 645.4,272.3" fill="none" stroke="#ff0000" stroke-width="2" stroke-linejoin="round"/>
<text transform="translate(616.9 287.9) scale(1.04 1)" text-anchor="middle" font-size="10">***</text>
<line x1="597" y1="333.2" x2="608.6" y2="333.2" stroke="#000" stroke-width="2.1" stroke-linecap="butt"/>
<line x1="597" y1="343.0" x2="608.6" y2="343.0" stroke="#ff0000" stroke-width="2.1" stroke-linecap="butt"/>
<text transform="translate(612 335.1) scale(1.04 1)">WT</text>
<text transform="translate(612 348.4) scale(1.09 1)" font-style="italic" style="stroke-width:.25px">Disc1</text>
<text transform="translate(612.6 361.6) scale(1.03 1)">-deficient</text>
<text transform="translate(577.2 386.9) scale(1.04 1)" text-anchor="middle">0</text>
<text transform="translate(644.6 386.9) scale(1.04 1)" text-anchor="middle">1,000</text>
</svg>
</body></html>
